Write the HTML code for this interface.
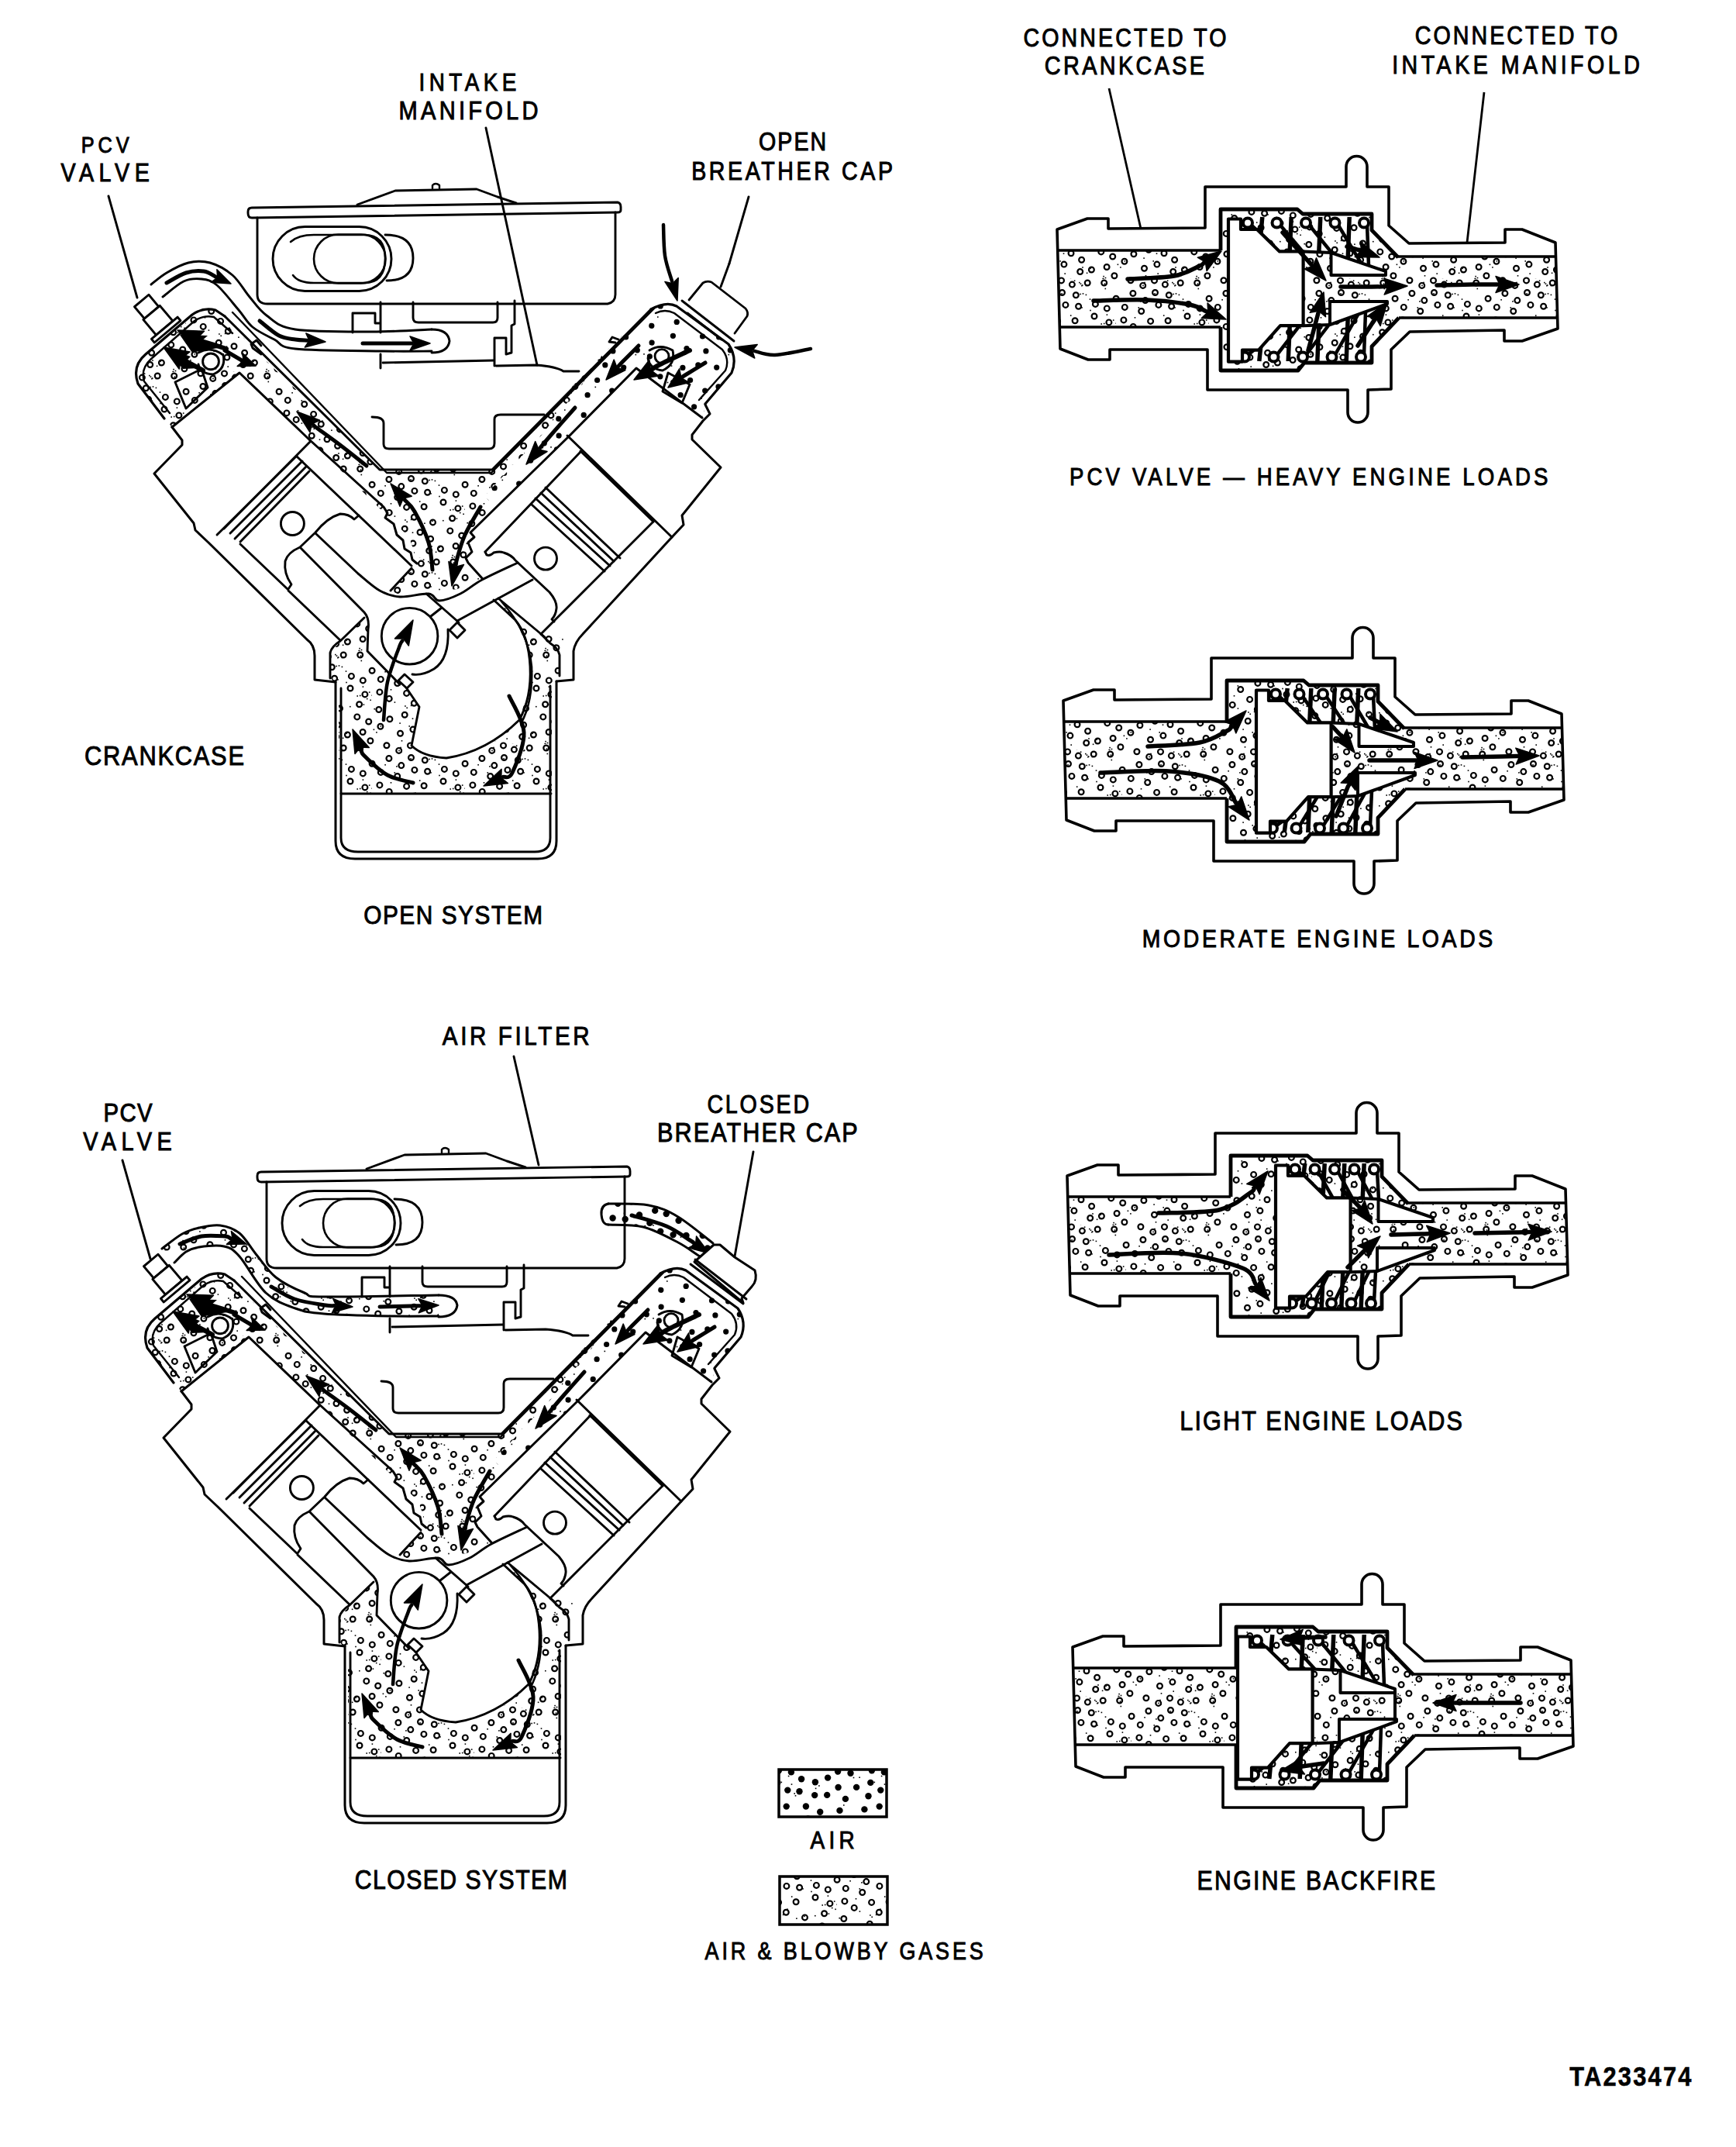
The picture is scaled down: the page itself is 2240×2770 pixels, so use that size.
<!DOCTYPE html><html><head><meta charset="utf-8"><style>html,body{margin:0;padding:0;background:#fff}svg{display:block}</style></head><body>
<svg width="2240" height="2770" viewBox="0 0 2240 2770">
<defs>
<pattern id="st" patternUnits="userSpaceOnUse" width="120" height="120"><circle cx="54.3" cy="67.2" r="3.4" fill="none" stroke="#000" stroke-width="2.2"/><circle cx="110.9" cy="55.9" r="3.4" fill="none" stroke="#000" stroke-width="2.2"/><circle cx="22.2" cy="61.4" r="3.4" fill="none" stroke="#000" stroke-width="2.2"/><circle cx="75.6" cy="95.2" r="3.4" fill="none" stroke="#000" stroke-width="2.2"/><circle cx="11.3" cy="36.4" r="3.4" fill="none" stroke="#000" stroke-width="2.2"/><circle cx="10.9" cy="97.2" r="3.4" fill="none" stroke="#000" stroke-width="2.2"/><circle cx="83.2" cy="5.0" r="3.4" fill="none" stroke="#000" stroke-width="2.2"/><circle cx="83.2" cy="125.0" r="3.4" fill="none" stroke="#000" stroke-width="2.2"/><circle cx="-2.1" cy="-4.2" r="3.4" fill="none" stroke="#000" stroke-width="2.2"/><circle cx="-2.1" cy="115.8" r="3.4" fill="none" stroke="#000" stroke-width="2.2"/><circle cx="117.9" cy="-4.2" r="3.4" fill="none" stroke="#000" stroke-width="2.2"/><circle cx="117.9" cy="115.8" r="3.4" fill="none" stroke="#000" stroke-width="2.2"/><circle cx="78.5" cy="73.9" r="3.4" fill="none" stroke="#000" stroke-width="2.2"/><circle cx="18.9" cy="1.8" r="3.4" fill="none" stroke="#000" stroke-width="2.2"/><circle cx="18.9" cy="121.8" r="3.4" fill="none" stroke="#000" stroke-width="2.2"/><circle cx="63.4" cy="7.1" r="3.4" fill="none" stroke="#000" stroke-width="2.2"/><circle cx="52.9" cy="101.1" r="3.4" fill="none" stroke="#000" stroke-width="2.2"/><circle cx="54.9" cy="33.4" r="3.4" fill="none" stroke="#000" stroke-width="2.2"/><circle cx="100.8" cy="84.9" r="3.4" fill="none" stroke="#000" stroke-width="2.2"/><circle cx="37.8" cy="27.6" r="3.4" fill="none" stroke="#000" stroke-width="2.2"/><circle cx="34.7" cy="8.4" r="3.4" fill="none" stroke="#000" stroke-width="2.2"/><circle cx="92.0" cy="48.0" r="3.4" fill="none" stroke="#000" stroke-width="2.2"/><circle cx="0.1" cy="25.2" r="3.4" fill="none" stroke="#000" stroke-width="2.2"/><circle cx="120.1" cy="25.2" r="3.4" fill="none" stroke="#000" stroke-width="2.2"/><circle cx="8.8" cy="75.5" r="3.4" fill="none" stroke="#000" stroke-width="2.2"/><circle cx="93.4" cy="32.4" r="3.4" fill="none" stroke="#000" stroke-width="2.2"/><circle cx="-4.3" cy="91.0" r="3.4" fill="none" stroke="#000" stroke-width="2.2"/><circle cx="115.7" cy="91.0" r="3.4" fill="none" stroke="#000" stroke-width="2.2"/><circle cx="67.1" cy="53.7" r="3.4" fill="none" stroke="#000" stroke-width="2.2"/><circle cx="22.9" cy="87.8" r="3.4" fill="none" stroke="#000" stroke-width="2.2"/><circle cx="36.5" cy="106.2" r="3.4" fill="none" stroke="#000" stroke-width="2.2"/><circle cx="44.6" cy="54.4" r="3.4" fill="none" stroke="#000" stroke-width="2.2"/><circle cx="21.9" cy="18.5" r="3.4" fill="none" stroke="#000" stroke-width="2.2"/><circle cx="71.6" cy="35.2" r="3.4" fill="none" stroke="#000" stroke-width="2.2"/><circle cx="88.4" cy="108.0" r="3.4" fill="none" stroke="#000" stroke-width="2.2"/><circle cx="42.2" cy="82.2" r="3.4" fill="none" stroke="#000" stroke-width="2.2"/><circle cx="108.1" cy="104.5" r="3.4" fill="none" stroke="#000" stroke-width="2.2"/><circle cx="103.6" cy="68.7" r="3.4" fill="none" stroke="#000" stroke-width="2.2"/><circle cx="73.7" cy="110.5" r="3.4" fill="none" stroke="#000" stroke-width="2.2"/><circle cx="104.7" cy="5.0" r="3.4" fill="none" stroke="#000" stroke-width="2.2"/><circle cx="104.7" cy="125.0" r="3.4" fill="none" stroke="#000" stroke-width="2.2"/><circle cx="32.7" cy="41.5" r="3.4" fill="none" stroke="#000" stroke-width="2.2"/><circle cx="9.9" cy="52.9" r="3.4" fill="none" stroke="#000" stroke-width="2.2"/><circle cx="62.0" cy="86.8" r="3.4" fill="none" stroke="#000" stroke-width="2.2"/><circle cx="108.3" cy="37.9" r="3.4" fill="none" stroke="#000" stroke-width="2.2"/><circle cx="50.5" cy="17.5" r="3.4" fill="none" stroke="#000" stroke-width="2.2"/><circle cx="49.5" cy="1.9" r="3.4" fill="none" stroke="#000" stroke-width="2.2"/><circle cx="49.5" cy="121.9" r="3.4" fill="none" stroke="#000" stroke-width="2.2"/><circle cx="68.3" cy="20.8" r="3.4" fill="none" stroke="#000" stroke-width="2.2"/><rect x="28.6" y="65.3" width="1.6" height="1.6" fill="#000"/><rect x="44.4" y="72.5" width="1.6" height="1.6" fill="#000"/><rect x="75.1" y="7.9" width="1.6" height="1.6" fill="#000"/><rect x="1.6" y="100.5" width="1.6" height="1.6" fill="#000"/><rect x="31.1" y="28.1" width="1.6" height="1.6" fill="#000"/><rect x="119.5" y="56.4" width="1.6" height="1.6" fill="#000"/><rect x="100.4" y="57.2" width="1.6" height="1.6" fill="#000"/><rect x="76.7" y="18.1" width="1.6" height="1.6" fill="#000"/><rect x="76.2" y="104.2" width="1.6" height="1.6" fill="#000"/><rect x="62.8" y="89.0" width="1.6" height="1.6" fill="#000"/><rect x="80.6" y="7.7" width="1.6" height="1.6" fill="#000"/><rect x="91.0" y="70.9" width="1.6" height="1.6" fill="#000"/><rect x="36.2" y="3.7" width="1.6" height="1.6" fill="#000"/><rect x="103.9" y="56.7" width="1.6" height="1.6" fill="#000"/><rect x="86.3" y="105.5" width="1.6" height="1.6" fill="#000"/><rect x="85.7" y="110.5" width="1.6" height="1.6" fill="#000"/><rect x="47.4" y="96.1" width="1.6" height="1.6" fill="#000"/><rect x="53.4" y="112.3" width="1.6" height="1.6" fill="#000"/><rect x="105.5" y="11.7" width="1.6" height="1.6" fill="#000"/><rect x="16.3" y="26.0" width="1.6" height="1.6" fill="#000"/><rect x="115.9" y="52.3" width="1.6" height="1.6" fill="#000"/><rect x="75.2" y="36.1" width="1.6" height="1.6" fill="#000"/><rect x="60.9" y="46.3" width="1.6" height="1.6" fill="#000"/><rect x="42.1" y="70.2" width="1.6" height="1.6" fill="#000"/><rect x="70.1" y="108.5" width="1.6" height="1.6" fill="#000"/><rect x="81.8" y="111.5" width="1.6" height="1.6" fill="#000"/><rect x="102.8" y="118.9" width="1.6" height="1.6" fill="#000"/><rect x="80.6" y="19.6" width="1.6" height="1.6" fill="#000"/><rect x="103.3" y="115.8" width="1.6" height="1.6" fill="#000"/><rect x="108.6" y="68.3" width="1.6" height="1.6" fill="#000"/><rect x="85.7" y="25.3" width="1.6" height="1.6" fill="#000"/><rect x="99.8" y="68.8" width="1.6" height="1.6" fill="#000"/><rect x="34.2" y="7.6" width="1.6" height="1.6" fill="#000"/><rect x="102.5" y="118.8" width="1.6" height="1.6" fill="#000"/><rect x="10.6" y="96.1" width="1.6" height="1.6" fill="#000"/><rect x="49.3" y="18.1" width="1.6" height="1.6" fill="#000"/><rect x="35.3" y="92.3" width="1.6" height="1.6" fill="#000"/><rect x="104.7" y="5.3" width="1.6" height="1.6" fill="#000"/><rect x="73.7" y="5.4" width="1.6" height="1.6" fill="#000"/><rect x="86.2" y="39.7" width="1.6" height="1.6" fill="#000"/><rect x="105.7" y="117.7" width="1.6" height="1.6" fill="#000"/><rect x="60.7" y="119.8" width="1.6" height="1.6" fill="#000"/><rect x="37.2" y="9.2" width="1.6" height="1.6" fill="#000"/><rect x="72.0" y="3.8" width="1.6" height="1.6" fill="#000"/><rect x="23.7" y="49.0" width="1.6" height="1.6" fill="#000"/><rect x="73.3" y="18.7" width="1.6" height="1.6" fill="#000"/><rect x="5.1" y="104.1" width="1.6" height="1.6" fill="#000"/><rect x="37.7" y="115.0" width="1.6" height="1.6" fill="#000"/><rect x="107.6" y="45.3" width="1.6" height="1.6" fill="#000"/><rect x="55.2" y="62.4" width="1.6" height="1.6" fill="#000"/><rect x="77.3" y="71.5" width="1.6" height="1.6" fill="#000"/><rect x="67.1" y="74.4" width="1.6" height="1.6" fill="#000"/><rect x="112.9" y="60.8" width="1.6" height="1.6" fill="#000"/><rect x="51.7" y="86.4" width="1.6" height="1.6" fill="#000"/><rect x="28.5" y="36.1" width="1.6" height="1.6" fill="#000"/><rect x="117.3" y="62.5" width="1.6" height="1.6" fill="#000"/><rect x="65.8" y="1.4" width="1.6" height="1.6" fill="#000"/><rect x="49.8" y="69.6" width="1.6" height="1.6" fill="#000"/><rect x="2.4" y="73.9" width="1.6" height="1.6" fill="#000"/><rect x="75.9" y="7.2" width="1.6" height="1.6" fill="#000"/></pattern>
<pattern id="dt" patternUnits="userSpaceOnUse" width="120" height="120"><circle cx="74.7" cy="89.0" r="4.2" fill="#000"/><circle cx="95.4" cy="113.1" r="4.2" fill="#000"/><circle cx="3.5" cy="55.9" r="4.2" fill="#000"/><circle cx="123.5" cy="55.9" r="4.2" fill="#000"/><circle cx="113.2" cy="77.9" r="4.2" fill="#000"/><circle cx="108.1" cy="13.6" r="4.2" fill="#000"/><circle cx="56.3" cy="29.6" r="4.2" fill="#000"/><circle cx="65.3" cy="68.9" r="4.2" fill="#000"/><circle cx="1.6" cy="26.0" r="4.2" fill="#000"/><circle cx="121.6" cy="26.0" r="4.2" fill="#000"/><circle cx="33.5" cy="110.0" r="4.2" fill="#000"/><circle cx="91.9" cy="19.2" r="4.2" fill="#000"/><circle cx="74.1" cy="15.2" r="4.2" fill="#000"/><circle cx="0.2" cy="104.6" r="4.2" fill="#000"/><circle cx="120.2" cy="104.6" r="4.2" fill="#000"/><circle cx="25.1" cy="25.9" r="4.2" fill="#000"/><circle cx="107.2" cy="35.9" r="4.2" fill="#000"/><circle cx="43.3" cy="19.9" r="4.2" fill="#000"/><circle cx="17.5" cy="7.8" r="4.2" fill="#000"/><circle cx="36.2" cy="72.4" r="4.2" fill="#000"/><circle cx="40.5" cy="37.2" r="4.2" fill="#000"/><circle cx="98.2" cy="57.7" r="4.2" fill="#000"/><circle cx="1.1" cy="5.6" r="4.2" fill="#000"/><circle cx="1.1" cy="125.6" r="4.2" fill="#000"/><circle cx="121.1" cy="5.6" r="4.2" fill="#000"/><circle cx="121.1" cy="125.6" r="4.2" fill="#000"/><circle cx="23.6" cy="90.7" r="4.2" fill="#000"/><circle cx="10.9" cy="40.9" r="4.2" fill="#000"/><circle cx="73.3" cy="110.2" r="4.2" fill="#000"/><circle cx="54.7" cy="50.6" r="4.2" fill="#000"/><circle cx="35.4" cy="54.4" r="4.2" fill="#000"/><circle cx="58.6" cy="87.5" r="4.2" fill="#000"/><circle cx="43.4" cy="94.3" r="4.2" fill="#000"/><circle cx="93.0" cy="83.4" r="4.2" fill="#000"/><circle cx="88.5" cy="99.4" r="4.2" fill="#000"/><circle cx="79.9" cy="50.5" r="4.2" fill="#000"/><circle cx="44.9" cy="4.3" r="4.2" fill="#000"/><circle cx="44.9" cy="124.3" r="4.2" fill="#000"/><circle cx="13.0" cy="67.9" r="4.2" fill="#000"/><circle cx="71.5" cy="31.2" r="4.2" fill="#000"/><circle cx="91.2" cy="36.1" r="4.2" fill="#000"/><circle cx="54.7" cy="110.0" r="4.2" fill="#000"/><circle cx="82.7" cy="66.4" r="4.2" fill="#000"/><circle cx="60.9" cy="6.4" r="4.2" fill="#000"/><circle cx="7.7" cy="82.1" r="4.2" fill="#000"/><circle cx="106.4" cy="93.9" r="4.2" fill="#000"/><circle cx="16.6" cy="109.1" r="4.2" fill="#000"/><rect x="28.3" y="12.4" width="1.6" height="1.6" fill="#000"/><rect x="47.5" y="18.6" width="1.6" height="1.6" fill="#000"/><rect x="8.0" y="48.2" width="1.6" height="1.6" fill="#000"/><rect x="110.2" y="96.1" width="1.6" height="1.6" fill="#000"/><rect x="91.8" y="26.6" width="1.6" height="1.6" fill="#000"/><rect x="64.4" y="33.2" width="1.6" height="1.6" fill="#000"/><rect x="20.7" y="12.7" width="1.6" height="1.6" fill="#000"/><rect x="25.7" y="111.3" width="1.6" height="1.6" fill="#000"/><rect x="99.5" y="96.8" width="1.6" height="1.6" fill="#000"/><rect x="96.1" y="23.2" width="1.6" height="1.6" fill="#000"/><rect x="37.2" y="75.2" width="1.6" height="1.6" fill="#000"/><rect x="87.8" y="102.6" width="1.6" height="1.6" fill="#000"/><rect x="105.6" y="10.4" width="1.6" height="1.6" fill="#000"/><rect x="72.7" y="80.6" width="1.6" height="1.6" fill="#000"/><rect x="60.7" y="21.3" width="1.6" height="1.6" fill="#000"/><rect x="56.8" y="10.7" width="1.6" height="1.6" fill="#000"/><rect x="112.2" y="103.9" width="1.6" height="1.6" fill="#000"/><rect x="65.7" y="36.0" width="1.6" height="1.6" fill="#000"/><rect x="109.1" y="68.7" width="1.6" height="1.6" fill="#000"/><rect x="105.9" y="101.8" width="1.6" height="1.6" fill="#000"/></pattern>
<pattern id="dt2" patternUnits="userSpaceOnUse" width="120" height="120"><circle cx="55.6" cy="44.8" r="3.6" fill="#000"/><circle cx="16.6" cy="104.0" r="3.6" fill="#000"/><circle cx="0.8" cy="60.3" r="3.6" fill="#000"/><circle cx="120.8" cy="60.3" r="3.6" fill="#000"/><circle cx="107.8" cy="9.7" r="3.6" fill="#000"/><circle cx="66.5" cy="74.0" r="3.6" fill="#000"/><circle cx="84.4" cy="54.2" r="3.6" fill="#000"/><circle cx="87.0" cy="18.9" r="3.6" fill="#000"/><circle cx="28.6" cy="13.3" r="3.6" fill="#000"/><circle cx="60.8" cy="110.9" r="3.6" fill="#000"/><circle cx="70.9" cy="92.9" r="3.6" fill="#000"/><circle cx="46.0" cy="89.5" r="3.6" fill="#000"/><circle cx="12.2" cy="34.9" r="3.6" fill="#000"/><circle cx="50.6" cy="10.5" r="3.6" fill="#000"/><circle cx="84.7" cy="-5.9" r="3.6" fill="#000"/><circle cx="84.7" cy="114.1" r="3.6" fill="#000"/><circle cx="28.4" cy="73.3" r="3.6" fill="#000"/><circle cx="95.9" cy="39.4" r="3.6" fill="#000"/><circle cx="11.9" cy="5.8" r="3.6" fill="#000"/><circle cx="11.9" cy="125.8" r="3.6" fill="#000"/><circle cx="87.6" cy="75.0" r="3.6" fill="#000"/><circle cx="-1.6" cy="99.9" r="3.6" fill="#000"/><circle cx="118.4" cy="99.9" r="3.6" fill="#000"/><circle cx="38.1" cy="29.7" r="3.6" fill="#000"/><circle cx="33.2" cy="55.4" r="3.6" fill="#000"/><circle cx="1.1" cy="82.1" r="3.6" fill="#000"/><circle cx="121.1" cy="82.1" r="3.6" fill="#000"/><circle cx="69.7" cy="24.0" r="3.6" fill="#000"/><circle cx="114.0" cy="41.6" r="3.6" fill="#000"/><circle cx="102.3" cy="91.8" r="3.6" fill="#000"/><circle cx="40.9" cy="-5.6" r="3.6" fill="#000"/><circle cx="40.9" cy="114.4" r="3.6" fill="#000"/><rect x="28.3" y="12.4" width="1.6" height="1.6" fill="#000"/><rect x="47.5" y="18.6" width="1.6" height="1.6" fill="#000"/><rect x="8.0" y="48.2" width="1.6" height="1.6" fill="#000"/><rect x="110.2" y="96.1" width="1.6" height="1.6" fill="#000"/><rect x="91.8" y="26.6" width="1.6" height="1.6" fill="#000"/><rect x="64.4" y="33.2" width="1.6" height="1.6" fill="#000"/><rect x="20.7" y="12.7" width="1.6" height="1.6" fill="#000"/><rect x="25.7" y="111.3" width="1.6" height="1.6" fill="#000"/><rect x="99.5" y="96.8" width="1.6" height="1.6" fill="#000"/><rect x="96.1" y="23.2" width="1.6" height="1.6" fill="#000"/></pattern>
</defs>
<rect width="2240" height="2770" fill="#fff"/>
<g fill="#000">
<text transform="translate(104.80,197.20) scale(0.88,1)" font-size="28.77" textLength="70.23" lengthAdjust="spacing" font-family="Liberation Sans" font-weight="normal" stroke="#000" stroke-width="1.0">PCV</text>
<text transform="translate(78.40,234.00) scale(0.88,1)" font-size="32.55" textLength="130.00" lengthAdjust="spacing" font-family="Liberation Sans" font-weight="normal" stroke="#000" stroke-width="1.0">VALVE</text>
<text transform="translate(540.60,117.00) scale(0.88,1)" font-size="31.67" textLength="142.95" lengthAdjust="spacing" font-family="Liberation Sans" font-weight="normal" stroke="#000" stroke-width="1.0">INTAKE</text>
<text transform="translate(514.60,154.20) scale(0.88,1)" font-size="33.06" textLength="204.32" lengthAdjust="spacing" font-family="Liberation Sans" font-weight="normal" stroke="#000" stroke-width="1.0">MANIFOLD</text>
<text transform="translate(979.00,194.20) scale(0.88,1)" font-size="32.47" textLength="99.09" lengthAdjust="spacing" font-family="Liberation Sans" font-weight="normal" stroke="#000" stroke-width="1.0">OPEN</text>
<text transform="translate(892.20,231.60) scale(0.88,1)" font-size="32.47" textLength="295.23" lengthAdjust="spacing" font-family="Liberation Sans" font-weight="normal" stroke="#000" stroke-width="1.0">BREATHER CAP</text>
<text transform="translate(109.00,987.00) scale(0.88,1)" font-size="35.07" textLength="234.09" lengthAdjust="spacing" font-family="Liberation Sans" font-weight="normal" stroke="#000" stroke-width="1.0">CRANKCASE</text>
<text transform="translate(469.20,1192.00) scale(0.88,1)" font-size="33.86" textLength="262.27" lengthAdjust="spacing" font-family="Liberation Sans" font-weight="normal" stroke="#000" stroke-width="1.0">OPEN SYSTEM</text>
<text transform="translate(1320.40,60.00) scale(0.88,1)" font-size="32.47" textLength="297.95" lengthAdjust="spacing" font-family="Liberation Sans" font-weight="normal" stroke="#000" stroke-width="1.0">CONNECTED TO</text>
<text transform="translate(1347.80,96.40) scale(0.88,1)" font-size="32.75" textLength="234.32" lengthAdjust="spacing" font-family="Liberation Sans" font-weight="normal" stroke="#000" stroke-width="1.0">CRANKCASE</text>
<text transform="translate(1825.80,57.00) scale(0.88,1)" font-size="32.55" textLength="297.05" lengthAdjust="spacing" font-family="Liberation Sans" font-weight="normal" stroke="#000" stroke-width="1.0">CONNECTED TO</text>
<text transform="translate(1796.20,95.00) scale(0.88,1)" font-size="32.47" textLength="363.18" lengthAdjust="spacing" font-family="Liberation Sans" font-weight="normal" stroke="#000" stroke-width="1.0">INTAKE MANIFOLD</text>
<text transform="translate(1380.00,626.00) scale(0.88,1)" font-size="31.38" textLength="701.59" lengthAdjust="spacing" font-family="Liberation Sans" font-weight="normal" stroke="#000" stroke-width="1.0">PCV VALVE — HEAVY ENGINE LOADS</text>
<text transform="translate(1473.80,1222.20) scale(0.88,1)" font-size="32.27" textLength="514.09" lengthAdjust="spacing" font-family="Liberation Sans" font-weight="normal" stroke="#000" stroke-width="1.0">MODERATE ENGINE LOADS</text>
<text transform="translate(1522.20,1844.60) scale(0.88,1)" font-size="34.82" textLength="414.55" lengthAdjust="spacing" font-family="Liberation Sans" font-weight="normal" stroke="#000" stroke-width="1.0">LIGHT ENGINE LOADS</text>
<text transform="translate(1544.60,2438.00) scale(0.88,1)" font-size="34.31" textLength="349.55" lengthAdjust="spacing" font-family="Liberation Sans" font-weight="normal" stroke="#000" stroke-width="1.0">ENGINE BACKFIRE</text>
<text transform="translate(570.80,1348.00) scale(0.88,1)" font-size="33.57" textLength="215.68" lengthAdjust="spacing" font-family="Liberation Sans" font-weight="normal" stroke="#000" stroke-width="1.0">AIR FILTER</text>
<text transform="translate(133.40,1447.40) scale(0.88,1)" font-size="33.33" textLength="71.82" lengthAdjust="spacing" font-family="Liberation Sans" font-weight="normal" stroke="#000" stroke-width="1.0">PCV</text>
<text transform="translate(107.20,1483.80) scale(0.88,1)" font-size="32.78" textLength="130.23" lengthAdjust="spacing" font-family="Liberation Sans" font-weight="normal" stroke="#000" stroke-width="1.0">VALVE</text>
<text transform="translate(912.40,1435.80) scale(0.88,1)" font-size="32.53" textLength="149.77" lengthAdjust="spacing" font-family="Liberation Sans" font-weight="normal" stroke="#000" stroke-width="1.0">CLOSED</text>
<text transform="translate(848.00,1473.20) scale(0.88,1)" font-size="34.82" textLength="294.09" lengthAdjust="spacing" font-family="Liberation Sans" font-weight="normal" stroke="#000" stroke-width="1.0">BREATHER CAP</text>
<text transform="translate(457.80,2437.20) scale(0.88,1)" font-size="34.31" textLength="311.36" lengthAdjust="spacing" font-family="Liberation Sans" font-weight="normal" stroke="#000" stroke-width="1.0">CLOSED SYSTEM</text>
<text transform="translate(1045.60,2385.20) scale(0.88,1)" font-size="31.72" textLength="64.77" lengthAdjust="spacing" font-family="Liberation Sans" font-weight="normal" stroke="#000" stroke-width="1.0">AIR</text>
<text transform="translate(909.60,2528.20) scale(0.88,1)" font-size="30.60" textLength="408.18" lengthAdjust="spacing" font-family="Liberation Sans" font-weight="normal" stroke="#000" stroke-width="1.0">AIR &amp; BLOWBY GASES</text>
<text transform="translate(2025.20,2691.00) scale(0.88,1)" font-size="34.98" textLength="178.64" lengthAdjust="spacing" font-family="Liberation Sans" font-weight="bold" stroke="#000" stroke-width="0.6">TA233474</text>
</g>
<path d="M1431,114 L1472,295 M1915,119 L1893,313" stroke="#000" stroke-width="2.8" fill="none"/>
<g transform="translate(0,0)" stroke="#000" fill="none" stroke-linejoin="round">
<path d="M1366,323 H1575 V422 H1368 Z" fill="url(#st)" stroke="none"/>
<path d="M1575,270 H1674 L1681,276 H1770 V297 L1804,332 H2008 V410 H1805 L1770,447 V468 H1683 L1675,478 H1575 Z" fill="url(#st)" stroke="none"/>
<path d="M1364,296 L1403,282 L1430,282 L1430,295 L1555,294 L1555,241 L1737,241 L1737,215 A13.5,13.5 0 0 1 1764,215 L1764,241 L1792,241 L1792,291 L1818,314 L1942,313 L1942,296 L1964,296 L2007,313 L2010,424 L1964,440 L1941,440 L1941,426 L1819,428 L1795,451 L1795,502 L1765,503 L1765,532 A13,13 0 0 1 1739,532 L1739,503 L1558,503 L1558,451 L1432,451 L1432,464 L1404,464 L1368,450 Z" stroke-width="3.6"/>
<path d="M1366,323 H1575 M1368,422 H1575 M1803,331 H2008 M1805,410 H2009" stroke-width="3.6"/>
<path d="M1628.8,280 L1626.8,302.5" stroke="#000" stroke-width="5.5" fill="none"/>
<path d="M1624.8,466 L1626.8,446.4" stroke="#000" stroke-width="5.5" fill="none"/>
<path d="M1614.0,290 L1643.8,317.0" stroke="#000" stroke-width="4.5" fill="none"/>
<path d="M1610.0,458 L1639.8,434.0" stroke="#000" stroke-width="4.5" fill="none"/>
<path d="M1666.2,280 L1664.2,324.5" stroke="#000" stroke-width="5.5" fill="none"/>
<path d="M1662.2,466 L1664.2,419.8" stroke="#000" stroke-width="5.5" fill="none"/>
<path d="M1651.5,290 L1681.2,324.9" stroke="#000" stroke-width="4.5" fill="none"/>
<path d="M1647.5,458 L1677.2,419.6" stroke="#000" stroke-width="4.5" fill="none"/>
<path d="M1703.8,280 L1701.8,325.6" stroke="#000" stroke-width="5.5" fill="none"/>
<path d="M1699.8,466 L1701.8,419.2" stroke="#000" stroke-width="5.5" fill="none"/>
<path d="M1689.0,290 L1718.8,326.6" stroke="#000" stroke-width="4.5" fill="none"/>
<path d="M1685.0,458 L1714.8,419.0" stroke="#000" stroke-width="4.5" fill="none"/>
<path d="M1741.2,280 L1739.2,334.2" stroke="#000" stroke-width="5.5" fill="none"/>
<path d="M1737.2,466 L1739.2,409.8" stroke="#000" stroke-width="5.5" fill="none"/>
<path d="M1726.5,290 L1756.2,339.3" stroke="#000" stroke-width="4.5" fill="none"/>
<path d="M1722.5,458 L1752.2,405.8" stroke="#000" stroke-width="4.5" fill="none"/>
<path d="M1764.0,290 L1766.0,342.6" stroke="#000" stroke-width="4.5" fill="none"/>
<path d="M1760.0,458 L1762.0,402.2" stroke="#000" stroke-width="4.5" fill="none"/>
<circle cx="1610.0" cy="287.5" r="6" fill="#fff" stroke="#000" stroke-width="4"/>
<circle cx="1606.0" cy="460.5" r="6" fill="#fff" stroke="#000" stroke-width="4"/>
<circle cx="1647.5" cy="287.5" r="6" fill="#fff" stroke="#000" stroke-width="4"/>
<circle cx="1643.5" cy="460.5" r="6" fill="#fff" stroke="#000" stroke-width="4"/>
<circle cx="1685.0" cy="287.5" r="6" fill="#fff" stroke="#000" stroke-width="4"/>
<circle cx="1681.0" cy="460.5" r="6" fill="#fff" stroke="#000" stroke-width="4"/>
<circle cx="1722.5" cy="287.5" r="6" fill="#fff" stroke="#000" stroke-width="4"/>
<circle cx="1718.5" cy="460.5" r="6" fill="#fff" stroke="#000" stroke-width="4"/>
<circle cx="1760.0" cy="287.5" r="6" fill="#fff" stroke="#000" stroke-width="4"/>
<circle cx="1756.0" cy="460.5" r="6" fill="#fff" stroke="#000" stroke-width="4"/>
<path d="M1585,282.5 H1601 V296 H1622 L1651,324.4 H1681.6 V420.2 H1652 L1624,451.7 H1603 V466.7 H1585 Z" fill="#fff" stroke="#000" stroke-width="4.2" stroke-linejoin="round"/>
<path d="M1681.6,324.4 L1717.5,326 M1681.6,420.2 L1716,419" stroke="#000" stroke-width="4" fill="none"/>
<path d="M1717.5,326 L1788,350 V355 H1717.5 Z" fill="#fff" stroke="#000" stroke-width="4" stroke-linejoin="round"/>
<path d="M1716,389 H1790 V392 L1716,419 Z" fill="#fff" stroke="#000" stroke-width="4" stroke-linejoin="round"/>
<path d="M1575,323 V270 H1674 L1681,276 H1770 V297 L1804,332 M1575,422 V478 H1675 L1683,468 H1770 V447 L1805,410" stroke-width="4.8"/>
<path d="M1455.0,360.0 C1465.0,359.3 1499.5,358.8 1515.0,356.0 C1530.5,353.2 1541.7,345.7 1548.0,343.0 C1554.3,340.3 1552.0,340.3 1552.8,339.7" fill="none" stroke="#000" stroke-width="5.5" stroke-linecap="round" />
<path d="M1576.0,324.0 L1557.1,349.5 L1555.3,338.0 L1545.3,332.2 Z" fill="#000" stroke="#000" stroke-width="1.5" stroke-linejoin="round"/>
<path d="M1411.0,388.0 C1422.5,387.8 1459.3,386.2 1480.0,387.0 C1500.7,387.8 1522.3,390.6 1535.0,393.0 C1547.7,395.4 1552.5,400.1 1556.0,401.5" fill="none" stroke="#000" stroke-width="5.5" stroke-linecap="round" />
<path d="M1582.0,412.0 L1550.3,410.5 L1558.8,402.6 L1558.1,391.0 Z" fill="#000" stroke="#000" stroke-width="1.5" stroke-linejoin="round"/>
<path d="M1854.0,368.0 C1861.7,367.8 1887.0,367.2 1900.0,367.0 C1913.0,366.8 1926.7,367.0 1932.0,367.0" fill="none" stroke="#000" stroke-width="5.5" stroke-linecap="round" />
<path d="M1960.0,367.0 L1930.0,377.5 L1935.0,367.0 L1930.0,356.5 Z" fill="#000" stroke="#000" stroke-width="1.5" stroke-linejoin="round"/>
<path d="M1730.0,370.0 C1736.7,370.0 1760.3,370.1 1770.0,370.0 C1779.7,369.9 1785.0,369.7 1788.0,369.6" fill="none" stroke="#000" stroke-width="5.5" stroke-linecap="round" />
<path d="M1816.0,369.0 L1786.2,380.1 L1791.0,369.5 L1785.8,359.2 Z" fill="#000" stroke="#000" stroke-width="1.5" stroke-linejoin="round"/>
<path d="M1655.0,300.0 C1659.2,304.7 1673.8,321.1 1680.0,328.0 C1686.2,334.9 1690.1,339.1 1692.1,341.3" fill="none" stroke="#000" stroke-width="5.5" stroke-linecap="round" />
<path d="M1711.0,362.0 L1683.0,346.9 L1694.2,343.5 L1698.5,332.8 Z" fill="#000" stroke="#000" stroke-width="1.5" stroke-linejoin="round"/>
<path d="M1688.0,452.0 C1689.7,445.8 1695.9,423.0 1698.0,415.0 C1700.1,407.0 1700.4,405.9 1700.9,404.1" fill="none" stroke="#000" stroke-width="5.5" stroke-linecap="round" />
<path d="M1708.0,377.0 L1710.5,408.7 L1701.6,401.2 L1690.2,403.3 Z" fill="#000" stroke="#000" stroke-width="1.5" stroke-linejoin="round"/>
<path d="M1738.0,318.0 C1741.3,319.0 1755.4,323.3 1758.0,324.0 C1760.6,324.7 1754.4,322.7 1753.7,322.4" fill="none" stroke="#000" stroke-width="5.5" stroke-linecap="round" />
<path d="M1780.0,332.0 L1748.2,331.6 L1756.5,323.5 L1755.4,311.9 Z" fill="#000" stroke="#000" stroke-width="1.5" stroke-linejoin="round"/>
<path d="M1752.0,446.0 C1755.0,441.3 1766.4,423.5 1770.0,418.0 C1773.6,412.5 1773.1,413.7 1773.7,412.8" fill="none" stroke="#000" stroke-width="5.5" stroke-linecap="round" />
<path d="M1790.0,390.0 L1781.1,420.5 L1775.5,410.3 L1764.0,408.3 Z" fill="#000" stroke="#000" stroke-width="1.5" stroke-linejoin="round"/>
</g>
<g transform="translate(8,608)" stroke="#000" fill="none" stroke-linejoin="round">
<path d="M1366,323 H1575 V422 H1368 Z" fill="url(#st)" stroke="none"/>
<path d="M1575,270 H1674 L1681,276 H1770 V297 L1804,332 H2008 V410 H1805 L1770,447 V468 H1683 L1675,478 H1575 Z" fill="url(#st)" stroke="none"/>
<path d="M1364,296 L1403,282 L1430,282 L1430,295 L1555,294 L1555,241 L1737,241 L1737,215 A13.5,13.5 0 0 1 1764,215 L1764,241 L1792,241 L1792,291 L1818,314 L1942,313 L1942,296 L1964,296 L2007,313 L2010,424 L1964,440 L1941,440 L1941,426 L1819,428 L1795,451 L1795,502 L1765,503 L1765,532 A13,13 0 0 1 1739,532 L1739,503 L1558,503 L1558,451 L1432,451 L1432,464 L1404,464 L1368,450 Z" stroke-width="3.6"/>
<path d="M1366,323 H1575 M1368,422 H1575 M1803,331 H2008 M1805,410 H2009" stroke-width="3.6"/>
<path d="M1653.2,280 L1651.2,299.1" stroke="#000" stroke-width="5.5" fill="none"/>
<path d="M1649.2,466 L1651.2,450.3" stroke="#000" stroke-width="5.5" fill="none"/>
<path d="M1642.0,290 L1665.5,310.9" stroke="#000" stroke-width="4.5" fill="none"/>
<path d="M1638.0,458 L1661.5,441.1" stroke="#000" stroke-width="4.5" fill="none"/>
<path d="M1683.8,280 L1681.8,324.1" stroke="#000" stroke-width="5.5" fill="none"/>
<path d="M1679.8,466 L1681.8,419.9" stroke="#000" stroke-width="5.5" fill="none"/>
<path d="M1672.5,290 L1696.0,324.5" stroke="#000" stroke-width="4.5" fill="none"/>
<path d="M1668.5,458 L1692.0,419.8" stroke="#000" stroke-width="4.5" fill="none"/>
<path d="M1714.2,280 L1712.2,325.1" stroke="#000" stroke-width="5.5" fill="none"/>
<path d="M1710.2,466 L1712.2,419.5" stroke="#000" stroke-width="5.5" fill="none"/>
<path d="M1703.0,290 L1726.5,325.4" stroke="#000" stroke-width="4.5" fill="none"/>
<path d="M1699.0,458 L1722.5,419.3" stroke="#000" stroke-width="4.5" fill="none"/>
<path d="M1744.8,280 L1742.8,326.0" stroke="#000" stroke-width="5.5" fill="none"/>
<path d="M1740.8,466 L1742.8,418.7" stroke="#000" stroke-width="5.5" fill="none"/>
<path d="M1733.5,290 L1757.0,330.0" stroke="#000" stroke-width="4.5" fill="none"/>
<path d="M1729.5,458 L1753.0,415.7" stroke="#000" stroke-width="4.5" fill="none"/>
<path d="M1764.0,290 L1766.0,333.1" stroke="#000" stroke-width="4.5" fill="none"/>
<path d="M1760.0,458 L1762.0,412.4" stroke="#000" stroke-width="4.5" fill="none"/>
<circle cx="1638.0" cy="287.5" r="6" fill="#fff" stroke="#000" stroke-width="4"/>
<circle cx="1634.0" cy="460.5" r="6" fill="#fff" stroke="#000" stroke-width="4"/>
<circle cx="1668.5" cy="287.5" r="6" fill="#fff" stroke="#000" stroke-width="4"/>
<circle cx="1664.5" cy="460.5" r="6" fill="#fff" stroke="#000" stroke-width="4"/>
<circle cx="1699.0" cy="287.5" r="6" fill="#fff" stroke="#000" stroke-width="4"/>
<circle cx="1695.0" cy="460.5" r="6" fill="#fff" stroke="#000" stroke-width="4"/>
<circle cx="1729.5" cy="287.5" r="6" fill="#fff" stroke="#000" stroke-width="4"/>
<circle cx="1725.5" cy="460.5" r="6" fill="#fff" stroke="#000" stroke-width="4"/>
<circle cx="1760.0" cy="287.5" r="6" fill="#fff" stroke="#000" stroke-width="4"/>
<circle cx="1756.0" cy="460.5" r="6" fill="#fff" stroke="#000" stroke-width="4"/>
<path d="M1613,282.5 H1629 V296 H1650 L1679,324.4 H1709.6 V420.2 H1680 L1652,451.7 H1631 V466.7 H1613 Z" fill="#fff" stroke="#000" stroke-width="4.2" stroke-linejoin="round"/>
<path d="M1709.6,324.4 L1745.5,326 M1709.6,420.2 L1744,419" stroke="#000" stroke-width="4" fill="none"/>
<path d="M1745.5,326 L1816,350 V355 H1745.5 Z" fill="#fff" stroke="#000" stroke-width="4" stroke-linejoin="round"/>
<path d="M1744,389 H1818 V392 L1744,419 Z" fill="#fff" stroke="#000" stroke-width="4" stroke-linejoin="round"/>
<path d="M1575,323 V270 H1674 L1681,276 H1770 V297 L1804,332 M1575,422 V478 H1675 L1683,468 H1770 V447 L1805,410" stroke-width="4.8"/>
<path d="M1473.0,355.0 C1484.2,354.2 1523.0,353.3 1540.0,350.0 C1557.0,346.7 1568.2,338.5 1575.0,335.0 C1581.8,331.5 1579.7,330.2 1580.6,329.2" fill="none" stroke="#000" stroke-width="5.5" stroke-linecap="round" />
<path d="M1600.0,309.0 L1586.8,337.9 L1582.7,327.0 L1571.6,323.3 Z" fill="#000" stroke="#000" stroke-width="1.5" stroke-linejoin="round"/>
<path d="M1412.0,389.0 C1426.7,388.7 1474.5,385.2 1500.0,387.0 C1525.5,388.8 1550.5,393.2 1565.0,400.0 C1579.5,406.8 1583.1,423.3 1586.8,427.9" fill="none" stroke="#000" stroke-width="5.5" stroke-linecap="round" />
<path d="M1604.0,450.0 L1577.3,432.8 L1588.6,430.3 L1593.8,419.9 Z" fill="#000" stroke="#000" stroke-width="1.5" stroke-linejoin="round"/>
<path d="M1879.0,369.0 C1887.5,368.8 1918.2,368.2 1930.0,368.0 C1941.8,367.8 1946.7,367.7 1950.0,367.6" fill="none" stroke="#000" stroke-width="5.5" stroke-linecap="round" />
<path d="M1978.0,367.0 L1948.2,378.1 L1953.0,367.5 L1947.8,357.1 Z" fill="#000" stroke="#000" stroke-width="1.5" stroke-linejoin="round"/>
<path d="M1759.0,373.0 C1765.8,373.0 1790.0,373.0 1800.0,373.0 C1810.0,373.0 1815.8,373.0 1819.0,373.0" fill="none" stroke="#000" stroke-width="5.5" stroke-linecap="round" />
<path d="M1847.0,373.0 L1817.0,383.5 L1822.0,373.0 L1817.0,362.5 Z" fill="#000" stroke="#000" stroke-width="1.5" stroke-linejoin="round"/>
<path d="M1712.0,330.0 C1714.3,332.5 1724.2,343.2 1726.0,345.0 C1727.8,346.8 1723.3,341.6 1722.8,340.9" fill="none" stroke="#000" stroke-width="5.5" stroke-linecap="round" />
<path d="M1740.0,363.0 L1713.3,345.8 L1724.7,343.3 L1729.9,332.9 Z" fill="#000" stroke="#000" stroke-width="1.5" stroke-linejoin="round"/>
<path d="M1716.0,445.0 C1718.3,439.2 1727.3,416.7 1730.0,410.0 C1732.7,403.3 1732.1,405.9 1732.5,405.0" fill="none" stroke="#000" stroke-width="5.5" stroke-linecap="round" />
<path d="M1745.0,380.0 L1741.0,411.5 L1733.8,402.4 L1722.2,402.1 Z" fill="#000" stroke="#000" stroke-width="1.5" stroke-linejoin="round"/>
<path d="M1760.0,318.0 C1762.5,319.3 1773.3,325.1 1775.0,326.0 C1776.7,326.9 1770.8,323.9 1770.0,323.5" fill="none" stroke="#000" stroke-width="5.5" stroke-linecap="round" />
<path d="M1795.0,336.0 L1763.5,332.0 L1772.6,324.8 L1772.9,313.2 Z" fill="#000" stroke="#000" stroke-width="1.5" stroke-linejoin="round"/>
</g>
<g transform="translate(13,1221)" stroke="#000" fill="none" stroke-linejoin="round">
<path d="M1366,323 H1575 V422 H1368 Z" fill="url(#st)" stroke="none"/>
<path d="M1575,270 H1674 L1681,276 H1770 V297 L1804,332 H2008 V410 H1805 L1770,447 V468 H1683 L1675,478 H1575 Z" fill="url(#st)" stroke="none"/>
<path d="M1364,296 L1403,282 L1430,282 L1430,295 L1555,294 L1555,241 L1737,241 L1737,215 A13.5,13.5 0 0 1 1764,215 L1764,241 L1792,241 L1792,291 L1818,314 L1942,313 L1942,296 L1964,296 L2007,313 L2010,424 L1964,440 L1941,440 L1941,426 L1819,428 L1795,451 L1795,502 L1765,503 L1765,532 A13,13 0 0 1 1739,532 L1739,503 L1558,503 L1558,451 L1432,451 L1432,464 L1404,464 L1368,450 Z" stroke-width="3.6"/>
<path d="M1366,323 H1575 M1368,422 H1575 M1803,331 H2008 M1805,410 H2009" stroke-width="3.6"/>
<path d="M1670.8,280 L1668.8,296.7" stroke="#000" stroke-width="5.5" fill="none"/>
<path d="M1666.8,466 L1668.8,453.1" stroke="#000" stroke-width="5.5" fill="none"/>
<path d="M1662.0,290 L1681.0,306.6" stroke="#000" stroke-width="4.5" fill="none"/>
<path d="M1658.0,458 L1677.0,446.1" stroke="#000" stroke-width="4.5" fill="none"/>
<path d="M1696.2,280 L1694.2,321.3" stroke="#000" stroke-width="5.5" fill="none"/>
<path d="M1692.2,466 L1694.2,424.4" stroke="#000" stroke-width="5.5" fill="none"/>
<path d="M1687.5,290 L1706.5,324.2" stroke="#000" stroke-width="4.5" fill="none"/>
<path d="M1683.5,458 L1702.5,420.0" stroke="#000" stroke-width="4.5" fill="none"/>
<path d="M1721.8,280 L1719.8,324.7" stroke="#000" stroke-width="5.5" fill="none"/>
<path d="M1717.8,466 L1719.8,419.7" stroke="#000" stroke-width="5.5" fill="none"/>
<path d="M1713.0,290 L1732.0,325.0" stroke="#000" stroke-width="4.5" fill="none"/>
<path d="M1709.0,458 L1728.0,419.6" stroke="#000" stroke-width="4.5" fill="none"/>
<path d="M1747.2,280 L1745.2,325.5" stroke="#000" stroke-width="5.5" fill="none"/>
<path d="M1743.2,466 L1745.2,419.3" stroke="#000" stroke-width="5.5" fill="none"/>
<path d="M1738.5,290 L1757.5,325.8" stroke="#000" stroke-width="4.5" fill="none"/>
<path d="M1734.5,458 L1753.5,419.2" stroke="#000" stroke-width="4.5" fill="none"/>
<path d="M1764.0,290 L1766.0,326.3" stroke="#000" stroke-width="4.5" fill="none"/>
<path d="M1760.0,458 L1762.0,419.0" stroke="#000" stroke-width="4.5" fill="none"/>
<circle cx="1658.0" cy="287.5" r="6" fill="#fff" stroke="#000" stroke-width="4"/>
<circle cx="1654.0" cy="460.5" r="6" fill="#fff" stroke="#000" stroke-width="4"/>
<circle cx="1683.5" cy="287.5" r="6" fill="#fff" stroke="#000" stroke-width="4"/>
<circle cx="1679.5" cy="460.5" r="6" fill="#fff" stroke="#000" stroke-width="4"/>
<circle cx="1709.0" cy="287.5" r="6" fill="#fff" stroke="#000" stroke-width="4"/>
<circle cx="1705.0" cy="460.5" r="6" fill="#fff" stroke="#000" stroke-width="4"/>
<circle cx="1734.5" cy="287.5" r="6" fill="#fff" stroke="#000" stroke-width="4"/>
<circle cx="1730.5" cy="460.5" r="6" fill="#fff" stroke="#000" stroke-width="4"/>
<circle cx="1760.0" cy="287.5" r="6" fill="#fff" stroke="#000" stroke-width="4"/>
<circle cx="1756.0" cy="460.5" r="6" fill="#fff" stroke="#000" stroke-width="4"/>
<path d="M1633,282.5 H1649 V296 H1670 L1699,324.4 H1729.6 V420.2 H1700 L1672,451.7 H1651 V466.7 H1633 Z" fill="#fff" stroke="#000" stroke-width="4.2" stroke-linejoin="round"/>
<path d="M1729.6,324.4 L1765.5,326 M1729.6,420.2 L1764,419" stroke="#000" stroke-width="4" fill="none"/>
<path d="M1765.5,326 L1836,350 V355 H1765.5 Z" fill="#fff" stroke="#000" stroke-width="4" stroke-linejoin="round"/>
<path d="M1764,389 H1838 V392 L1764,419 Z" fill="#fff" stroke="#000" stroke-width="4" stroke-linejoin="round"/>
<path d="M1575,323 V270 H1674 L1681,276 H1770 V297 L1804,332 M1575,422 V478 H1675 L1683,468 H1770 V447 L1805,410" stroke-width="4.8"/>
<path d="M1482.0,344.0 C1495.0,343.3 1540.3,344.3 1560.0,340.0 C1579.7,335.7 1592.5,322.7 1600.0,318.0 C1607.5,313.3 1604.4,312.7 1605.2,311.6" fill="none" stroke="#000" stroke-width="5.5" stroke-linecap="round" />
<path d="M1623.0,290.0 L1612.1,319.8 L1607.1,309.3 L1595.8,306.5 Z" fill="#000" stroke="#000" stroke-width="1.5" stroke-linejoin="round"/>
<path d="M1418.0,398.0 C1433.3,397.7 1481.3,393.2 1510.0,396.0 C1538.7,398.8 1573.8,408.4 1590.0,415.0 C1606.2,421.6 1604.2,432.1 1607.1,435.5" fill="none" stroke="#000" stroke-width="5.5" stroke-linecap="round" />
<path d="M1625.0,457.0 L1597.7,440.7 L1609.0,437.8 L1613.9,427.2 Z" fill="#000" stroke="#000" stroke-width="1.5" stroke-linejoin="round"/>
<path d="M1890.0,370.0 C1898.3,369.8 1928.2,369.2 1940.0,369.0 C1951.8,368.8 1957.5,368.6 1961.0,368.6" fill="none" stroke="#000" stroke-width="5.5" stroke-linecap="round" />
<path d="M1989.0,368.0 L1959.2,379.1 L1964.0,368.5 L1958.8,358.1 Z" fill="#000" stroke="#000" stroke-width="1.5" stroke-linejoin="round"/>
<path d="M1782.0,372.0 C1788.3,371.8 1812.0,371.2 1820.0,371.0 C1828.0,370.8 1828.3,370.8 1830.0,370.7" fill="none" stroke="#000" stroke-width="5.5" stroke-linecap="round" />
<path d="M1858.0,370.0 L1828.3,381.3 L1833.0,370.7 L1827.7,360.3 Z" fill="#000" stroke="#000" stroke-width="1.5" stroke-linejoin="round"/>
<path d="M1719.0,314.0 C1722.5,317.5 1736.4,331.3 1740.0,335.0 C1743.6,338.7 1740.6,335.8 1740.7,335.9" fill="none" stroke="#000" stroke-width="5.5" stroke-linecap="round" />
<path d="M1758.0,358.0 L1731.2,340.8 L1742.6,338.3 L1747.8,327.9 Z" fill="#000" stroke="#000" stroke-width="1.5" stroke-linejoin="round"/>
<path d="M1726.0,414.0 C1729.7,410.3 1744.5,395.5 1748.0,392.0 C1751.5,388.5 1747.3,392.6 1747.2,392.7" fill="none" stroke="#000" stroke-width="5.5" stroke-linecap="round" />
<path d="M1768.0,374.0 L1752.7,401.9 L1749.4,390.7 L1738.7,386.3 Z" fill="#000" stroke="#000" stroke-width="1.5" stroke-linejoin="round"/>
</g>
<g transform="translate(20,1829)" stroke="#000" fill="none" stroke-linejoin="round">
<path d="M1366,323 H1575 V422 H1368 Z" fill="url(#st)" stroke="none"/>
<path d="M1575,270 H1674 L1681,276 H1770 V297 L1804,332 H2008 V410 H1805 L1770,447 V468 H1683 L1675,478 H1575 Z" fill="url(#st)" stroke="none"/>
<path d="M1364,296 L1403,282 L1430,282 L1430,295 L1555,294 L1555,241 L1737,241 L1737,215 A13.5,13.5 0 0 1 1764,215 L1764,241 L1792,241 L1792,291 L1818,314 L1942,313 L1942,296 L1964,296 L2007,313 L2010,424 L1964,440 L1941,440 L1941,426 L1819,428 L1795,451 L1795,502 L1765,503 L1765,532 A13,13 0 0 1 1739,532 L1739,503 L1558,503 L1558,451 L1432,451 L1432,464 L1404,464 L1368,450 Z" stroke-width="3.6"/>
<path d="M1366,323 H1575 M1368,422 H1575 M1803,331 H2008 M1805,410 H2009" stroke-width="3.6"/>
<path d="M1621.8,280 L1619.8,303.5" stroke="#000" stroke-width="5.5" fill="none"/>
<path d="M1617.8,466 L1619.8,445.2" stroke="#000" stroke-width="5.5" fill="none"/>
<path d="M1606.0,290 L1637.5,318.7" stroke="#000" stroke-width="4.5" fill="none"/>
<path d="M1602.0,458 L1633.5,432.0" stroke="#000" stroke-width="4.5" fill="none"/>
<path d="M1661.2,280 L1659.2,324.6" stroke="#000" stroke-width="5.5" fill="none"/>
<path d="M1657.2,466 L1659.2,419.7" stroke="#000" stroke-width="5.5" fill="none"/>
<path d="M1645.5,290 L1677.0,325.0" stroke="#000" stroke-width="4.5" fill="none"/>
<path d="M1641.5,458 L1673.0,419.5" stroke="#000" stroke-width="4.5" fill="none"/>
<path d="M1700.8,280 L1698.8,325.8" stroke="#000" stroke-width="5.5" fill="none"/>
<path d="M1696.8,466 L1698.8,419.1" stroke="#000" stroke-width="5.5" fill="none"/>
<path d="M1685.0,290 L1716.5,328.6" stroke="#000" stroke-width="4.5" fill="none"/>
<path d="M1681.0,458 L1712.5,417.3" stroke="#000" stroke-width="4.5" fill="none"/>
<path d="M1740.2,280 L1738.2,336.6" stroke="#000" stroke-width="5.5" fill="none"/>
<path d="M1736.2,466 L1738.2,407.2" stroke="#000" stroke-width="5.5" fill="none"/>
<path d="M1724.5,290 L1756.0,341.9" stroke="#000" stroke-width="4.5" fill="none"/>
<path d="M1720.5,458 L1752.0,402.9" stroke="#000" stroke-width="4.5" fill="none"/>
<path d="M1764.0,290 L1766.0,345.3" stroke="#000" stroke-width="4.5" fill="none"/>
<path d="M1760.0,458 L1762.0,399.3" stroke="#000" stroke-width="4.5" fill="none"/>
<circle cx="1602.0" cy="287.5" r="6" fill="#fff" stroke="#000" stroke-width="4"/>
<circle cx="1598.0" cy="460.5" r="6" fill="#fff" stroke="#000" stroke-width="4"/>
<circle cx="1641.5" cy="287.5" r="6" fill="#fff" stroke="#000" stroke-width="4"/>
<circle cx="1637.5" cy="460.5" r="6" fill="#fff" stroke="#000" stroke-width="4"/>
<circle cx="1681.0" cy="287.5" r="6" fill="#fff" stroke="#000" stroke-width="4"/>
<circle cx="1677.0" cy="460.5" r="6" fill="#fff" stroke="#000" stroke-width="4"/>
<circle cx="1720.5" cy="287.5" r="6" fill="#fff" stroke="#000" stroke-width="4"/>
<circle cx="1716.5" cy="460.5" r="6" fill="#fff" stroke="#000" stroke-width="4"/>
<circle cx="1760.0" cy="287.5" r="6" fill="#fff" stroke="#000" stroke-width="4"/>
<circle cx="1756.0" cy="460.5" r="6" fill="#fff" stroke="#000" stroke-width="4"/>
<path d="M1577,282.5 H1593 V296 H1614 L1643,324.4 H1673.6 V420.2 H1644 L1616,451.7 H1595 V466.7 H1577 Z" fill="#fff" stroke="#000" stroke-width="4.2" stroke-linejoin="round"/>
<path d="M1673.6,324.4 L1709.5,326 M1673.6,420.2 L1708,419" stroke="#000" stroke-width="4" fill="none"/>
<path d="M1709.5,326 L1780,350 V355 H1709.5 Z" fill="#fff" stroke="#000" stroke-width="4" stroke-linejoin="round"/>
<path d="M1708,389 H1782 V392 L1708,419 Z" fill="#fff" stroke="#000" stroke-width="4" stroke-linejoin="round"/>
<path d="M1780,350 V390" stroke="#000" stroke-width="4"/>
<path d="M1575,323 V270 H1674 L1681,276 H1770 V297 L1804,332 M1575,422 V478 H1675 L1683,468 H1770 V447 L1805,410" stroke-width="4.8"/>
<path d="M1942.0,368.0 C1931.7,368.0 1894.2,368.0 1880.0,368.0 C1865.8,368.0 1860.8,368.0 1857.0,368.0" fill="none" stroke="#000" stroke-width="5.5" stroke-linecap="round" />
<path d="M1829.0,368.0 L1859.0,357.5 L1854.0,368.0 L1859.0,378.5 Z" fill="#000" stroke="#000" stroke-width="1.5" stroke-linejoin="round"/>
<path d="M1690.0,283.0 C1685.0,283.2 1665.0,283.8 1660.0,284.0 C1655.0,284.2 1659.9,284.0 1659.9,284.0" fill="none" stroke="#000" stroke-width="5.5" stroke-linecap="round" />
<path d="M1632.0,286.0 L1661.2,273.4 L1656.9,284.2 L1662.7,294.3 Z" fill="#000" stroke="#000" stroke-width="1.5" stroke-linejoin="round"/>
<path d="M1688.0,446.0 C1683.3,446.7 1664.8,449.3 1660.0,450.0 C1655.2,450.7 1659.5,450.1 1659.4,450.1" fill="none" stroke="#000" stroke-width="5.5" stroke-linecap="round" />
<path d="M1632.0,456.0 L1659.1,439.4 L1656.4,450.8 L1663.5,460.0 Z" fill="#000" stroke="#000" stroke-width="1.5" stroke-linejoin="round"/>
</g>
<rect x="1005" y="2283" width="139" height="61" fill="url(#dt)" stroke="#000" stroke-width="3.5"/>
<rect x="1006" y="2421" width="139" height="62" fill="url(#st)" stroke="#000" stroke-width="3.5"/>
<g transform="translate(0,0)" fill="none" stroke="#000" stroke-width="3" stroke-linejoin="round" stroke-linecap="round">
<path d="M437.0,1024.0 L437.0,888.0 L426.0,874.0 L426.0,842.0 L439.0,828.0 L470.0,798.0 L475.0,810.0 L474.0,840.0 L516.0,883.0 L524.0,887.0 L541.0,912.0 L531.0,962.0 L545.0,974.0 L576.0,978.0 L628.0,966.0 L670.0,929.0 L684.0,883.0 L684.0,841.0 L665.0,800.0 L637.0,774.0 L698.0,818.0 L740.0,826.0 L722.0,845.0 L722.0,872.0 L712.0,885.0 L712.0,1024.0 Z" fill="url(#st)" stroke="none"/>
<path d="M212.0,540.0 L178.0,495.0 L178.0,470.0 L188.0,457.0 L248.0,406.0 L265.0,400.0 L278.0,400.0 L290.0,408.0 L326.0,449.0 L490.0,606.0 L635.0,606.0 L793.0,442.0 L840.0,399.0 L860.0,392.0 L873.0,395.0 L940.0,444.0 L947.0,460.0 L944.0,481.0 L911.0,521.0 L906.0,539.0 L821.0,475.0 L734.0,563.0 L607.0,687.0 L601.0,725.0 L622.0,746.0 L590.0,760.0 L555.0,764.0 L517.0,768.0 L504.0,762.0 L531.0,733.0 L538.0,727.0 L532.0,705.0 L528.0,693.0 L400.0,568.0 L309.0,481.0 L222.0,551.0 Z" fill="url(#st)" stroke="none"/>
<path d="M947.0,460.0 L944.0,481.0 L911.0,521.0 L906.0,539.0 L821.0,475.0 L734.0,563.0 L640.0,655.0 L625.0,640.0 L700.0,560.0 L793.0,442.0 L840.0,399.0 L860.0,392.0 L873.0,395.0 L940.0,444.0 Z" fill="#fff" stroke="none"/>
<path d="M947.0,460.0 L944.0,481.0 L911.0,521.0 L906.0,539.0 L821.0,475.0 L734.0,563.0 L640.0,655.0 L625.0,640.0 L700.0,560.0 L793.0,442.0 L840.0,399.0 L860.0,392.0 L873.0,395.0 L940.0,444.0 Z" fill="url(#dt2)" stroke="none"/>
<path d="M433,880 V1085 Q433,1108 458,1108 H694 Q718,1108 718,1085 V879"/>
<path d="M440,888 V1081 Q440,1099 462,1099 H690 Q710,1099 710,1081 V885" stroke-width="2.9"/>
<path d="M440,1024 H711" stroke-width="2.9"/>
<path d="M433,880 L406,877 V846 Q406,832 396,825 L269,700 L252,684 L250,675 L199,611 L235,574 L235,568 L222,551"/>
<path d="M718,879 L740,877 V840 Q742,828 752,818 L867,693 L882,677 L880,665 L930,603 L893,567 L893,561 L907,543 L916,534 L910,522"/>
<path d="M426,875 V842 Q428,834 439,827 L470,797" stroke-width="2.9"/>
<path d="M722,872 V845 Q720,836 710,830 L698,818" stroke-width="2.9"/>
<path d="M222,551 L309,481 L400,568"/>
<path d="M400,568 L495,654 L500,662 L497,668 L508,676 L512,690 L520,697 L522,708 L530,713 L532,722 L538,727"/>
<path d="M504,762 L531,733" stroke-width="2.9"/>
<path d="M400,570 L289,682" stroke-width="2.9"/>
<path d="M280,690 L383,588 M297,688 L390,595 M303,695 L395,602 M310,699 L399,608" stroke-width="2.9"/>
<path d="M310,702 L371,760 M372,762 L439,826" stroke-width="2.9"/>
<path d="M383,589 L531,730" stroke-width="2.9"/>
<circle cx="377.4" cy="675.5" r="15" stroke-width="2.9"/>
<path d="M372,760 L376,754 Q366,740 368,724 Q371,713 387,706 L407,687 Q422,668 439,663 Q450,663 457,670 L463,665" stroke-width="2.9"/>
<path d="M388,707 L470,790 Q477,798 475,812 L474,840 L516,883" stroke-width="2.9"/>
<path d="M407,688 L462,740  C466.7,743.7 481.0,757.0 490.0,762.0 C499.0,767.0 505.5,769.3 516.0,770.0 C526.5,770.7 544.5,765.2 553.0,766.0 C561.5,766.8 560.2,775.0 567.0,775.0 C573.8,775.0 584.8,770.5 594.0,766.0 C603.2,761.5 609.7,754.7 622.0,748.0 C634.3,741.3 660.3,729.7 668.0,726.0" stroke-width="2.9"/>
<path d="M906,539 L821,475 L734,563"/>
<path d="M734,563 L607,687 L612,693 L604,700 L609,712 L601,720 L604,726 L622,746"/>
<path d="M732,562 L867,693" stroke-width="2.9"/>
<path d="M749,582 L843,673" stroke-width="2.9"/>
<path d="M749,583 L626,712" stroke-width="2.9"/>
<path d="M843,673 L698,818" stroke-width="2.9"/>
<path d="M704,629 L800,720 M698,636 L792,724 M691,643 L787,730 M686,651 L780,737" stroke-width="2.9"/>
<circle cx="704" cy="720.6" r="14.5" stroke-width="2.9"/>
<path d="M626,712 L628,716 Q632,718 637,713 Q645,711 650,713 Q660,716 665,723 L709,764 Q719,776 718,785 Q717,794 712,799 L715,802" stroke-width="2.9"/>
<path d="M687,748 L590,801" stroke-width="2.9"/>
<path d="M550,766 L592,803 M556,795 L570,784" stroke-width="2.9"/>
<circle cx="528.6" cy="820.7" r="36.3" stroke-width="2.9"/>
<path d="M578,812 Q580,850 560,863 Q545,872 532,870" stroke-width="2.9"/>
<path d="M524,887 L541,912 L531,962 Q545,976 576,978 Q628,970 670,929 Q686,900 684,860 Q682,820 665,800 L637,774" stroke-width="2.9"/>
<path d="M643,772 L703,822" stroke-width="2.9"/>
<path d="M647,776 Q682,815 686,860 Q688,905 672,934" stroke-width="2.6"/>
<path d="M514,878 L522,870 L533,880 L525,888 Z" stroke-width="2.9" fill="#fff"/>
<path d="M580,813 L590,803 L600,813 L590,823 Z" stroke-width="2.9" fill="#fff"/>
<path d="M290,408 L490,606 H635 L840,399"/>
<path d="M300,403 L499,610 H634 L846,396" stroke-width="2.4"/>
<path d="M337,457 L326,449 L324,444 L331,439 L337,446" stroke-width="2.9"/>
<path d="M794,442 L786,441 L790,435 L798,438" stroke-width="2.9"/>
<path d="M480,538 Q495,538 495,546 V573 Q495,579 502,579 H631 Q638,579 638,572 V541 Q638,535 646,535 H702" stroke-width="2.9"/>
<path d="M491,390 V429 M491,457 V475" stroke-width="2.9"/>
<path d="M533,390 V410 Q533,416 540,416 H636 Q642,416 642,410 V390" stroke-width="2.9"/>
<path d="M455,429 V404 H484 V417 H490" stroke-width="2.9"/>
<path d="M664,388 V418 L660,420 V455 L653,457 V436 H638 V472" stroke-width="2.9"/>
<path d="M494,468 L637,465 M640,472 L692,471 Q718,473 727,479 H747" stroke-width="2.9"/>
<path d="M325,268 L797,261 Q801,262 801,267 V271 Q801,274 797,274 L325,281 Q320,281 320,275 V273 Q320,268 325,268 Z" stroke-width="2.9"/>
<path d="M461,264 L510,246 L615,244 L642,254 L666,262" stroke-width="2.9"/>
<path d="M558,243 V239 Q562,235 567,239 V243" stroke-width="2.4"/>
<path d="M332,281 V380 Q332,392 345,392 H784 Q794,390 794,380 V274" stroke-width="2.9"/>
<rect x="352" y="292.5" width="153" height="83" rx="41.5" stroke-width="2.9"/>
<path d="M375,312 Q385,303 405,303 H470 Q497,303 497,333 Q497,365 470,365 H405 Q385,365 378,355" stroke-width="2.6"/>
<rect x="405" y="302.5" width="92.5" height="63" rx="31.5" stroke-width="2.6"/>
<path d="M497,303 Q533,303 533,333 Q533,362 499,362" stroke-width="2.9"/>
<path d="M627,165 L693,471" stroke-width="2.9"/>
<path d="M212,540 L178,495 Q170,472 188,457 L248,406 Q262,396 278,400 L290,408" stroke-width="3.2"/>
<path d="M219,533 L186,492 Q181,476 195,463 L251,414 Q263,406 276,409 L300,430" stroke-width="2.4"/>
<path d="M910,521 L944,481 Q952,462 940,444 L873,395 Q860,388 840,399" stroke-width="3.2"/>
<path d="M902,516 L936,478 Q942,464 932,451 L870,404 Q858,398 846,404" stroke-width="2.4"/>
<circle cx="272" cy="466.4" r="10.4" stroke-width="2.9" fill="#fff"/>
<path d="M256,455 Q272,446 288,458 Q292,476 275,483 Q258,482 256,470" stroke-width="2.9"/>
<circle cx="854" cy="459.6" r="9" stroke-width="2.9" fill="#fff"/>
<path d="M838,452 Q852,443 868,452 Q872,470 855,478 Q838,476 836,462" stroke-width="2.9"/>
<path d="M226,493 L260,476 L268,500 L240,527 Z" stroke-width="2.9"/>
<path d="M862,481 L890,496 L880,520 L855,505 Z" stroke-width="2.9"/>
<path d="M195.0,367.0 C198.3,364.5 207.0,356.7 215.0,352.0 C223.0,347.3 233.7,341.2 243.0,339.0 C252.3,336.8 261.5,336.3 271.0,339.0 C280.5,341.7 291.5,347.7 300.0,355.0 C308.5,362.3 314.7,374.3 322.0,383.0 C329.3,391.7 334.2,400.0 344.0,407.0 C353.8,414.0 358.3,421.5 381.0,425.0 C403.7,428.5 450.7,428.0 480.0,428.0 C509.3,428.0 544.2,425.5 557.0,425.0" stroke-width="2.9"/>
<path d="M210.0,383.0 C214.5,379.7 228.7,366.8 237.0,363.0 C245.3,359.2 252.8,359.2 260.0,360.0 C267.2,360.8 272.0,361.3 280.0,368.0 C288.0,374.7 300.3,391.0 308.0,400.0 C315.7,409.0 318.3,415.7 326.0,422.0 C333.7,428.3 344.8,433.3 354.0,438.0 C363.2,442.7 357.7,447.5 381.0,450.0 C404.3,452.5 464.7,452.5 494.0,453.0 C523.3,453.5 546.5,453.0 557.0,453.0" stroke-width="2.9"/>
<path d="M557,425 Q578,425 580,440 Q578,455 557,455" stroke-width="2.9"/>
<g transform="translate(202,411) rotate(50)"><rect x="-30" y="-12" width="20" height="24" stroke-width="2.9" fill="#fff"/><rect x="-10" y="-14" width="26" height="28" stroke-width="2.9" fill="#fff"/><rect x="16" y="-22" width="6" height="44" stroke-width="2.9" fill="#fff"/></g>
<path d="M140,253 L177,384" stroke-width="2.9"/>
<path d="M215.0,365.0 C219.2,362.8 232.0,354.5 240.0,352.0 C248.0,349.5 256.7,349.2 263.0,350.0 C269.3,350.8 275.5,355.7 278.0,356.9" fill="none" stroke="#000" stroke-width="5" stroke-linecap="round" />
<path d="M298.0,366.0 L272.4,364.2 L280.7,358.1 L279.9,347.8 Z" fill="#000" stroke="#000" stroke-width="1.5" stroke-linejoin="round"/>
<path d="M335.0,414.0 C339.2,417.2 352.3,429.0 360.0,433.0 C367.7,437.0 375.0,437.0 381.0,438.0 C387.0,439.0 393.6,439.0 396.1,439.2" fill="none" stroke="#000" stroke-width="5" stroke-linecap="round" />
<path d="M420.0,441.0 L393.4,448.0 L399.1,439.4 L394.8,430.0 Z" fill="#000" stroke="#000" stroke-width="1.5" stroke-linejoin="round"/>
<path d="M468.0,443.0 C476.7,443.0 509.5,443.0 520.0,443.0 C530.5,443.0 529.2,443.0 531.0,443.0" fill="none" stroke="#000" stroke-width="5" stroke-linecap="round" />
<path d="M555.0,443.0 L529.0,452.0 L534.0,443.0 L529.0,434.0 Z" fill="#000" stroke="#000" stroke-width="1.5" stroke-linejoin="round"/>
<path d="M889,387 L907,365 Q912,362 918,364 L962,398 Q966,403 964,408 L948,430" stroke-width="2.8" fill="#fff"/>
<path d="M880,388 L947,440 M887,404 L931,438" stroke-width="2.9"/>
<path d="M941,340 L930,370" stroke-width="2.9"/>
<path d="M966,254 L941,340" stroke-width="2.9"/>
<path d="M856.0,290.0 C856.3,296.7 856.2,317.8 858.0,330.0 C859.8,342.2 865.6,357.4 867.1,362.9" fill="none" stroke="#000" stroke-width="4.5" stroke-linecap="round" />
<path d="M874.0,388.0 L857.9,363.4 L867.9,365.8 L875.2,358.6 Z" fill="#000" stroke="#000" stroke-width="1.5" stroke-linejoin="round"/>
<path d="M1046.0,450.0 C1038.3,451.3 1012.1,457.5 1000.0,458.0 C987.9,458.5 977.9,453.8 973.5,452.9" fill="none" stroke="#000" stroke-width="4.5" stroke-linecap="round" />
<path d="M948.0,448.0 L977.2,444.4 L970.6,452.3 L973.8,462.1 Z" fill="#000" stroke="#000" stroke-width="1.5" stroke-linejoin="round"/>
<path d="M533.0,1010.0 C527.5,1008.3 510.5,1005.8 500.0,1000.0 C489.5,994.2 475.6,980.6 470.0,975.0 C464.4,969.4 466.9,968.0 466.3,966.6" fill="none" stroke="#000" stroke-width="5" stroke-linecap="round" />
<path d="M455.0,941.0 L476.3,964.4 L465.1,963.9 L458.0,972.5 Z" fill="#000" stroke="#000" stroke-width="1.5" stroke-linejoin="round"/>
<path d="M657.0,898.0 C660.2,905.8 675.3,928.5 676.0,945.0 C676.7,961.5 665.4,987.4 661.0,997.0 C656.6,1006.6 651.4,1001.4 649.4,1002.3" fill="none" stroke="#000" stroke-width="5" stroke-linecap="round" />
<path d="M624.0,1014.0 L647.1,992.4 L646.7,1003.6 L655.4,1010.6 Z" fill="#000" stroke="#000" stroke-width="1.5" stroke-linejoin="round"/>
<path d="M495.0,929.0 C495.8,920.8 496.7,895.7 500.0,880.0 C503.3,864.3 511.8,843.9 515.0,835.0 C518.2,826.1 518.6,828.1 519.3,826.7" fill="none" stroke="#000" stroke-width="4.5" stroke-linecap="round" />
<path d="M533.0,800.0 L527.3,833.0 L520.7,824.0 L509.5,823.9 Z" fill="#000" stroke="#000" stroke-width="1.5" stroke-linejoin="round"/>
<path d="M558.0,735.0 C557.2,729.2 556.8,712.5 553.0,700.0 C549.2,687.5 540.1,669.1 535.0,660.0 C529.9,650.9 524.4,647.7 522.3,645.2" fill="none" stroke="#000" stroke-width="5" stroke-linecap="round" />
<path d="M504.0,624.0 L531.2,640.2 L520.3,642.9 L516.0,653.3 Z" fill="#000" stroke="#000" stroke-width="1.5" stroke-linejoin="round"/>
<path d="M620.0,654.0 C616.7,660.0 605.0,679.0 600.0,690.0 C595.0,701.0 591.9,713.6 590.0,720.0 C588.1,726.4 588.6,727.1 588.3,728.5" fill="none" stroke="#000" stroke-width="5" stroke-linecap="round" />
<path d="M583.0,756.0 L578.9,724.6 L587.8,731.5 L598.5,728.5 Z" fill="#000" stroke="#000" stroke-width="1.5" stroke-linejoin="round"/>
<path d="M473.0,601.0 C467.5,596.7 450.5,583.0 440.0,575.0 C429.5,567.0 415.9,557.4 410.0,553.0 C404.1,548.6 405.6,549.4 404.7,548.7" fill="none" stroke="#000" stroke-width="5" stroke-linecap="round" />
<path d="M383.0,531.0 L412.6,542.2 L402.4,546.8 L399.9,557.7 Z" fill="#000" stroke="#000" stroke-width="1.5" stroke-linejoin="round"/>
<path d="M742.0,526.0 C737.0,531.7 719.5,551.4 712.0,560.0 C704.5,568.6 699.6,574.7 697.1,577.6" fill="none" stroke="#000" stroke-width="5" stroke-linecap="round" />
<path d="M679.0,599.0 L690.7,569.6 L695.1,579.9 L706.0,582.6 Z" fill="#000" stroke="#000" stroke-width="1.5" stroke-linejoin="round"/>
<path d="M292.0,450.0 C286.7,448.3 265.9,441.9 260.0,440.0 C254.1,438.1 257.0,438.6 256.3,438.3" fill="none" stroke="#000" stroke-width="6" stroke-linecap="round" />
<path d="M229.0,426.0 L263.5,427.3 L253.6,437.1 L252.8,451.0 Z" fill="#000" stroke="#000" stroke-width="1.5" stroke-linejoin="round"/>
<path d="M262.0,478.0 C258.0,475.8 242.3,467.3 238.0,465.0 C233.7,462.7 236.7,464.2 236.4,464.0" fill="none" stroke="#000" stroke-width="6" stroke-linecap="round" />
<path d="M211.0,448.0 L245.0,454.0 L233.8,462.4 L231.2,476.1 Z" fill="#000" stroke="#000" stroke-width="1.5" stroke-linejoin="round"/>
<path d="M290.0,452.0 C293.7,454.2 308.4,462.9 312.0,465.0 C315.6,467.1 311.5,464.8 311.4,464.8" fill="none" stroke="#000" stroke-width="5" stroke-linecap="round" />
<path d="M330.0,472.0 L306.2,472.4 L314.2,465.8 L312.8,455.6 Z" fill="#000" stroke="#000" stroke-width="1.5" stroke-linejoin="round"/>
<path d="M232,432 L268,433 L259,441 L288,448 L262,452 L248,455 Z" fill="#000" stroke="none"/>
<path d="M214,449 L246,460 L240,466 L256,475 L236,476 Z" fill="#000" stroke="none"/>
<path d="M890.0,452.0 C883.7,455.0 860.0,466.0 852.0,470.0 C844.0,474.0 843.8,474.8 842.1,475.8" fill="none" stroke="#000" stroke-width="6" stroke-linecap="round" />
<path d="M818.0,490.0 L837.8,464.4 L839.5,477.3 L849.9,485.1 Z" fill="#000" stroke="#000" stroke-width="1.5" stroke-linejoin="round"/>
<path d="M910.0,468.0 C905.7,470.7 888.8,481.0 884.0,484.0 C879.2,487.0 881.8,485.6 881.4,485.9" fill="none" stroke="#000" stroke-width="5" stroke-linecap="round" />
<path d="M862.0,500.0 L876.6,475.8 L879.0,487.6 L889.5,493.6 Z" fill="#000" stroke="#000" stroke-width="1.5" stroke-linejoin="round"/>
<path d="M824.0,446.0 C820.7,449.3 808.3,461.6 804.0,466.0 C799.7,470.4 799.2,471.3 798.2,472.3" fill="none" stroke="#000" stroke-width="5" stroke-linecap="round" />
<path d="M782.0,490.0 L792.2,464.1 L796.2,474.5 L806.9,477.6 Z" fill="#000" stroke="#000" stroke-width="1.5" stroke-linejoin="round"/>
</g>
<g transform="translate(12,1244)" fill="none" stroke="#000" stroke-width="3" stroke-linejoin="round" stroke-linecap="round">
<path d="M437.0,1024.0 L437.0,888.0 L426.0,874.0 L426.0,842.0 L439.0,828.0 L470.0,798.0 L475.0,810.0 L474.0,840.0 L516.0,883.0 L524.0,887.0 L541.0,912.0 L531.0,962.0 L545.0,974.0 L576.0,978.0 L628.0,966.0 L670.0,929.0 L684.0,883.0 L684.0,841.0 L665.0,800.0 L637.0,774.0 L698.0,818.0 L740.0,826.0 L722.0,845.0 L722.0,872.0 L712.0,885.0 L712.0,1024.0 Z" fill="url(#st)" stroke="none"/>
<path d="M212.0,540.0 L178.0,495.0 L178.0,470.0 L188.0,457.0 L248.0,406.0 L265.0,400.0 L278.0,400.0 L290.0,408.0 L326.0,449.0 L490.0,606.0 L635.0,606.0 L793.0,442.0 L840.0,399.0 L860.0,392.0 L873.0,395.0 L940.0,444.0 L947.0,460.0 L944.0,481.0 L911.0,521.0 L906.0,539.0 L821.0,475.0 L734.0,563.0 L607.0,687.0 L601.0,725.0 L622.0,746.0 L590.0,760.0 L555.0,764.0 L517.0,768.0 L504.0,762.0 L531.0,733.0 L538.0,727.0 L532.0,705.0 L528.0,693.0 L400.0,568.0 L309.0,481.0 L222.0,551.0 Z" fill="url(#st)" stroke="none"/>
<path d="M947.0,460.0 L944.0,481.0 L911.0,521.0 L906.0,539.0 L821.0,475.0 L734.0,563.0 L640.0,655.0 L625.0,640.0 L700.0,560.0 L793.0,442.0 L840.0,399.0 L860.0,392.0 L873.0,395.0 L940.0,444.0 Z" fill="#fff" stroke="none"/>
<path d="M947.0,460.0 L944.0,481.0 L911.0,521.0 L906.0,539.0 L821.0,475.0 L734.0,563.0 L640.0,655.0 L625.0,640.0 L700.0,560.0 L793.0,442.0 L840.0,399.0 L860.0,392.0 L873.0,395.0 L940.0,444.0 Z" fill="url(#dt2)" stroke="none"/>
<path d="M433,880 V1085 Q433,1108 458,1108 H694 Q718,1108 718,1085 V879"/>
<path d="M440,888 V1081 Q440,1099 462,1099 H690 Q710,1099 710,1081 V885" stroke-width="2.9"/>
<path d="M440,1024 H711" stroke-width="2.9"/>
<path d="M433,880 L406,877 V846 Q406,832 396,825 L269,700 L252,684 L250,675 L199,611 L235,574 L235,568 L222,551"/>
<path d="M718,879 L740,877 V840 Q742,828 752,818 L867,693 L882,677 L880,665 L930,603 L893,567 L893,561 L907,543 L916,534 L910,522"/>
<path d="M426,875 V842 Q428,834 439,827 L470,797" stroke-width="2.9"/>
<path d="M722,872 V845 Q720,836 710,830 L698,818" stroke-width="2.9"/>
<path d="M222,551 L309,481 L400,568"/>
<path d="M400,568 L495,654 L500,662 L497,668 L508,676 L512,690 L520,697 L522,708 L530,713 L532,722 L538,727"/>
<path d="M504,762 L531,733" stroke-width="2.9"/>
<path d="M400,570 L289,682" stroke-width="2.9"/>
<path d="M280,690 L383,588 M297,688 L390,595 M303,695 L395,602 M310,699 L399,608" stroke-width="2.9"/>
<path d="M310,702 L371,760 M372,762 L439,826" stroke-width="2.9"/>
<path d="M383,589 L531,730" stroke-width="2.9"/>
<circle cx="377.4" cy="675.5" r="15" stroke-width="2.9"/>
<path d="M372,760 L376,754 Q366,740 368,724 Q371,713 387,706 L407,687 Q422,668 439,663 Q450,663 457,670 L463,665" stroke-width="2.9"/>
<path d="M388,707 L470,790 Q477,798 475,812 L474,840 L516,883" stroke-width="2.9"/>
<path d="M407,688 L462,740  C466.7,743.7 481.0,757.0 490.0,762.0 C499.0,767.0 505.5,769.3 516.0,770.0 C526.5,770.7 544.5,765.2 553.0,766.0 C561.5,766.8 560.2,775.0 567.0,775.0 C573.8,775.0 584.8,770.5 594.0,766.0 C603.2,761.5 609.7,754.7 622.0,748.0 C634.3,741.3 660.3,729.7 668.0,726.0" stroke-width="2.9"/>
<path d="M906,539 L821,475 L734,563"/>
<path d="M734,563 L607,687 L612,693 L604,700 L609,712 L601,720 L604,726 L622,746"/>
<path d="M732,562 L867,693" stroke-width="2.9"/>
<path d="M749,582 L843,673" stroke-width="2.9"/>
<path d="M749,583 L626,712" stroke-width="2.9"/>
<path d="M843,673 L698,818" stroke-width="2.9"/>
<path d="M704,629 L800,720 M698,636 L792,724 M691,643 L787,730 M686,651 L780,737" stroke-width="2.9"/>
<circle cx="704" cy="720.6" r="14.5" stroke-width="2.9"/>
<path d="M626,712 L628,716 Q632,718 637,713 Q645,711 650,713 Q660,716 665,723 L709,764 Q719,776 718,785 Q717,794 712,799 L715,802" stroke-width="2.9"/>
<path d="M687,748 L590,801" stroke-width="2.9"/>
<path d="M550,766 L592,803 M556,795 L570,784" stroke-width="2.9"/>
<circle cx="528.6" cy="820.7" r="36.3" stroke-width="2.9"/>
<path d="M578,812 Q580,850 560,863 Q545,872 532,870" stroke-width="2.9"/>
<path d="M524,887 L541,912 L531,962 Q545,976 576,978 Q628,970 670,929 Q686,900 684,860 Q682,820 665,800 L637,774" stroke-width="2.9"/>
<path d="M643,772 L703,822" stroke-width="2.9"/>
<path d="M647,776 Q682,815 686,860 Q688,905 672,934" stroke-width="2.6"/>
<path d="M514,878 L522,870 L533,880 L525,888 Z" stroke-width="2.9" fill="#fff"/>
<path d="M580,813 L590,803 L600,813 L590,823 Z" stroke-width="2.9" fill="#fff"/>
<path d="M290,408 L490,606 H635 L840,399"/>
<path d="M300,403 L499,610 H634 L846,396" stroke-width="2.4"/>
<path d="M337,457 L326,449 L324,444 L331,439 L337,446" stroke-width="2.9"/>
<path d="M794,442 L786,441 L790,435 L798,438" stroke-width="2.9"/>
<path d="M480,538 Q495,538 495,546 V573 Q495,579 502,579 H631 Q638,579 638,572 V541 Q638,535 646,535 H702" stroke-width="2.9"/>
<path d="M491,390 V429 M491,457 V475" stroke-width="2.9"/>
<path d="M533,390 V410 Q533,416 540,416 H636 Q642,416 642,410 V390" stroke-width="2.9"/>
<path d="M455,429 V404 H484 V417 H490" stroke-width="2.9"/>
<path d="M664,388 V418 L660,420 V455 L653,457 V436 H638 V472" stroke-width="2.9"/>
<path d="M494,468 L637,465 M640,472 L692,471 Q718,473 727,479 H747" stroke-width="2.9"/>
<path d="M325,268 L797,261 Q801,262 801,267 V271 Q801,274 797,274 L325,281 Q320,281 320,275 V273 Q320,268 325,268 Z" stroke-width="2.9"/>
<path d="M461,264 L510,246 L615,244 L642,254 L666,262" stroke-width="2.9"/>
<path d="M558,243 V239 Q562,235 567,239 V243" stroke-width="2.4"/>
<path d="M332,281 V380 Q332,392 345,392 H784 Q794,390 794,380 V274" stroke-width="2.9"/>
<rect x="352" y="292.5" width="153" height="83" rx="41.5" stroke-width="2.9"/>
<path d="M375,312 Q385,303 405,303 H470 Q497,303 497,333 Q497,365 470,365 H405 Q385,365 378,355" stroke-width="2.6"/>
<rect x="405" y="302.5" width="92.5" height="63" rx="31.5" stroke-width="2.6"/>
<path d="M497,303 Q533,303 533,333 Q533,362 499,362" stroke-width="2.9"/>
<path d="M212,540 L178,495 Q170,472 188,457 L248,406 Q262,396 278,400 L290,408" stroke-width="3.2"/>
<path d="M219,533 L186,492 Q181,476 195,463 L251,414 Q263,406 276,409 L300,430" stroke-width="2.4"/>
<path d="M910,521 L944,481 Q952,462 940,444 L873,395 Q860,388 840,399" stroke-width="3.2"/>
<path d="M902,516 L936,478 Q942,464 932,451 L870,404 Q858,398 846,404" stroke-width="2.4"/>
<circle cx="272" cy="466.4" r="10.4" stroke-width="2.9" fill="#fff"/>
<path d="M256,455 Q272,446 288,458 Q292,476 275,483 Q258,482 256,470" stroke-width="2.9"/>
<circle cx="854" cy="459.6" r="9" stroke-width="2.9" fill="#fff"/>
<path d="M838,452 Q852,443 868,452 Q872,470 855,478 Q838,476 836,462" stroke-width="2.9"/>
<path d="M226,493 L260,476 L268,500 L240,527 Z" stroke-width="2.9"/>
<path d="M862,481 L890,496 L880,520 L855,505 Z" stroke-width="2.9"/>
<path d="M533.0,1010.0 C527.5,1008.3 510.5,1005.8 500.0,1000.0 C489.5,994.2 475.6,980.6 470.0,975.0 C464.4,969.4 466.9,968.0 466.3,966.6" fill="none" stroke="#000" stroke-width="5" stroke-linecap="round" />
<path d="M455.0,941.0 L476.3,964.4 L465.1,963.9 L458.0,972.5 Z" fill="#000" stroke="#000" stroke-width="1.5" stroke-linejoin="round"/>
<path d="M657.0,898.0 C660.2,905.8 675.3,928.5 676.0,945.0 C676.7,961.5 665.4,987.4 661.0,997.0 C656.6,1006.6 651.4,1001.4 649.4,1002.3" fill="none" stroke="#000" stroke-width="5" stroke-linecap="round" />
<path d="M624.0,1014.0 L647.1,992.4 L646.7,1003.6 L655.4,1010.6 Z" fill="#000" stroke="#000" stroke-width="1.5" stroke-linejoin="round"/>
<path d="M495.0,929.0 C495.8,920.8 496.7,895.7 500.0,880.0 C503.3,864.3 511.8,843.9 515.0,835.0 C518.2,826.1 518.6,828.1 519.3,826.7" fill="none" stroke="#000" stroke-width="4.5" stroke-linecap="round" />
<path d="M533.0,800.0 L527.3,833.0 L520.7,824.0 L509.5,823.9 Z" fill="#000" stroke="#000" stroke-width="1.5" stroke-linejoin="round"/>
<path d="M558.0,735.0 C557.2,729.2 556.8,712.5 553.0,700.0 C549.2,687.5 540.1,669.1 535.0,660.0 C529.9,650.9 524.4,647.7 522.3,645.2" fill="none" stroke="#000" stroke-width="5" stroke-linecap="round" />
<path d="M504.0,624.0 L531.2,640.2 L520.3,642.9 L516.0,653.3 Z" fill="#000" stroke="#000" stroke-width="1.5" stroke-linejoin="round"/>
<path d="M620.0,654.0 C616.7,660.0 605.0,679.0 600.0,690.0 C595.0,701.0 591.9,713.6 590.0,720.0 C588.1,726.4 588.6,727.1 588.3,728.5" fill="none" stroke="#000" stroke-width="5" stroke-linecap="round" />
<path d="M583.0,756.0 L578.9,724.6 L587.8,731.5 L598.5,728.5 Z" fill="#000" stroke="#000" stroke-width="1.5" stroke-linejoin="round"/>
<path d="M473.0,601.0 C467.5,596.7 450.5,583.0 440.0,575.0 C429.5,567.0 415.9,557.4 410.0,553.0 C404.1,548.6 405.6,549.4 404.7,548.7" fill="none" stroke="#000" stroke-width="5" stroke-linecap="round" />
<path d="M383.0,531.0 L412.6,542.2 L402.4,546.8 L399.9,557.7 Z" fill="#000" stroke="#000" stroke-width="1.5" stroke-linejoin="round"/>
<path d="M742.0,526.0 C737.0,531.7 719.5,551.4 712.0,560.0 C704.5,568.6 699.6,574.7 697.1,577.6" fill="none" stroke="#000" stroke-width="5" stroke-linecap="round" />
<path d="M679.0,599.0 L690.7,569.6 L695.1,579.9 L706.0,582.6 Z" fill="#000" stroke="#000" stroke-width="1.5" stroke-linejoin="round"/>
<path d="M292.0,450.0 C286.7,448.3 265.9,441.9 260.0,440.0 C254.1,438.1 257.0,438.6 256.3,438.3" fill="none" stroke="#000" stroke-width="6" stroke-linecap="round" />
<path d="M229.0,426.0 L263.5,427.3 L253.6,437.1 L252.8,451.0 Z" fill="#000" stroke="#000" stroke-width="1.5" stroke-linejoin="round"/>
<path d="M262.0,478.0 C258.0,475.8 242.3,467.3 238.0,465.0 C233.7,462.7 236.7,464.2 236.4,464.0" fill="none" stroke="#000" stroke-width="6" stroke-linecap="round" />
<path d="M211.0,448.0 L245.0,454.0 L233.8,462.4 L231.2,476.1 Z" fill="#000" stroke="#000" stroke-width="1.5" stroke-linejoin="round"/>
<path d="M290.0,452.0 C293.7,454.2 308.4,462.9 312.0,465.0 C315.6,467.1 311.5,464.8 311.4,464.8" fill="none" stroke="#000" stroke-width="5" stroke-linecap="round" />
<path d="M330.0,472.0 L306.2,472.4 L314.2,465.8 L312.8,455.6 Z" fill="#000" stroke="#000" stroke-width="1.5" stroke-linejoin="round"/>
<path d="M232,432 L268,433 L259,441 L288,448 L262,452 L248,455 Z" fill="#000" stroke="none"/>
<path d="M214,449 L246,460 L240,466 L256,475 L236,476 Z" fill="#000" stroke="none"/>
<path d="M890.0,452.0 C883.7,455.0 860.0,466.0 852.0,470.0 C844.0,474.0 843.8,474.8 842.1,475.8" fill="none" stroke="#000" stroke-width="6" stroke-linecap="round" />
<path d="M818.0,490.0 L837.8,464.4 L839.5,477.3 L849.9,485.1 Z" fill="#000" stroke="#000" stroke-width="1.5" stroke-linejoin="round"/>
<path d="M910.0,468.0 C905.7,470.7 888.8,481.0 884.0,484.0 C879.2,487.0 881.8,485.6 881.4,485.9" fill="none" stroke="#000" stroke-width="5" stroke-linecap="round" />
<path d="M862.0,500.0 L876.6,475.8 L879.0,487.6 L889.5,493.6 Z" fill="#000" stroke="#000" stroke-width="1.5" stroke-linejoin="round"/>
<path d="M824.0,446.0 C820.7,449.3 808.3,461.6 804.0,466.0 C799.7,470.4 799.2,471.3 798.2,472.3" fill="none" stroke="#000" stroke-width="5" stroke-linecap="round" />
<path d="M782.0,490.0 L792.2,464.1 L796.2,474.5 L806.9,477.6 Z" fill="#000" stroke="#000" stroke-width="1.5" stroke-linejoin="round"/>
<path d="M197.0,367.0 C201.3,363.8 215.0,352.5 223.0,348.0 C231.0,343.5 236.8,341.8 245.0,340.0 C253.2,338.2 263.3,335.8 272.0,337.0 C280.7,338.2 289.2,340.7 297.0,347.0 C304.8,353.3 311.2,365.5 319.0,375.0 C326.8,384.5 333.7,395.8 344.0,404.0 C354.3,412.2 370.7,419.8 381.0,424.0 C391.3,428.2 377.2,428.5 406.0,429.0 C434.8,429.5 529.3,427.3 554.0,427.0 L554,454 L554.0,454.0 C543.7,454.0 516.7,454.5 492.0,454.0 C467.3,453.5 426.5,452.7 406.0,451.0 C385.5,449.3 381.5,448.5 369.0,444.0 C356.5,439.5 343.0,435.2 331.0,424.0 C319.0,412.8 306.0,387.0 297.0,377.0 C288.0,367.0 285.7,366.0 277.0,364.0 C268.3,362.0 253.2,363.8 245.0,365.0 C236.8,366.2 233.3,367.7 228.0,371.0 C222.7,374.3 215.5,382.7 213.0,385.0 Z" fill="url(#st)" stroke="none"/>
<path d="M197.0,367.0 C201.3,363.8 215.0,352.5 223.0,348.0 C231.0,343.5 236.8,341.8 245.0,340.0 C253.2,338.2 263.3,335.8 272.0,337.0 C280.7,338.2 289.2,340.7 297.0,347.0 C304.8,353.3 311.2,365.5 319.0,375.0 C326.8,384.5 333.7,395.8 344.0,404.0 C354.3,412.2 370.7,419.8 381.0,424.0 C391.3,428.2 377.2,428.5 406.0,429.0 C434.8,429.5 529.3,427.3 554.0,427.0" stroke-width="3"/>
<path d="M213.0,385.0 C215.5,382.7 222.7,374.3 228.0,371.0 C233.3,367.7 236.8,366.2 245.0,365.0 C253.2,363.8 268.3,362.0 277.0,364.0 C285.7,366.0 288.0,367.0 297.0,377.0 C306.0,387.0 319.0,412.8 331.0,424.0 C343.0,435.2 356.5,439.5 369.0,444.0 C381.5,448.5 385.5,449.3 406.0,451.0 C426.5,452.7 467.3,453.5 492.0,454.0 C516.7,454.5 543.7,454.0 554.0,454.0" stroke-width="3"/>
<path d="M554,427 Q576,427 578,440 Q576,455 554,455" stroke-width="3"/>
<g transform="translate(202,405) rotate(50)"><rect x="-30" y="-12" width="20" height="24" stroke-width="2.9" fill="#fff"/><rect x="-10" y="-14" width="26" height="28" stroke-width="2.9" fill="#fff"/><rect x="16" y="-22" width="6" height="44" stroke-width="2.9" fill="#fff"/></g>
<path d="M220.0,361.0 C224.7,359.3 238.3,352.7 248.0,351.0 C257.7,349.3 271.8,350.6 278.0,351.0 C284.2,351.4 284.1,353.2 285.3,353.6" fill="none" stroke="#000" stroke-width="5" stroke-linecap="round" />
<path d="M306.0,361.0 L280.4,361.4 L288.1,354.6 L286.4,344.5 Z" fill="#000" stroke="#000" stroke-width="1.5" stroke-linejoin="round"/>
<path d="M338.0,416.0 C343.0,418.7 356.3,428.0 368.0,432.0 C379.7,436.0 399.5,438.6 408.0,440.0 C416.5,441.4 417.2,440.5 419.0,440.6" fill="none" stroke="#000" stroke-width="5" stroke-linecap="round" />
<path d="M443.0,442.0 L416.5,449.5 L422.0,440.8 L417.6,431.5 Z" fill="#000" stroke="#000" stroke-width="1.5" stroke-linejoin="round"/>
<path d="M478.0,442.0 C484.7,441.8 509.3,441.2 518.0,441.0 C526.7,440.8 528.0,440.7 530.0,440.7" fill="none" stroke="#000" stroke-width="5" stroke-linecap="round" />
<path d="M554.0,440.0 L528.3,449.7 L533.0,440.6 L527.8,431.7 Z" fill="#000" stroke="#000" stroke-width="1.5" stroke-linejoin="round"/>
<path d="M773.0,309.0 C781.7,309.3 810.0,308.2 825.0,311.0 C840.0,313.8 849.2,317.8 863.0,326.0 C876.8,334.2 900.5,354.3 908.0,360.0 L908,383 L908.0,383.0 C905.5,382.2 900.5,382.0 893.0,378.0 C885.5,374.0 875.5,365.5 863.0,359.0 C850.5,352.5 833.0,342.8 818.0,339.0 C803.0,335.2 780.5,336.5 773.0,336.0 Z" fill="url(#dt)" stroke="none"/>
<path d="M773.0,309.0 C781.7,309.3 810.0,308.2 825.0,311.0 C840.0,313.8 849.2,317.8 863.0,326.0 C876.8,334.2 900.5,354.3 908.0,360.0" stroke-width="3"/>
<path d="M773.0,336.0 C780.5,336.5 803.0,335.2 818.0,339.0 C833.0,342.8 850.5,352.5 863.0,359.0 C875.5,365.5 885.5,374.0 893.0,378.0 C900.5,382.0 905.5,382.2 908.0,383.0" stroke-width="3"/>
<path d="M773,309 Q763,311 764,323 Q765,336 773,336" stroke-width="3"/>
<path d="M803.0,324.0 C810.5,326.3 835.5,332.7 848.0,338.0 C860.5,343.3 872.1,352.4 878.0,356.0 C883.9,359.6 882.3,358.9 883.2,359.5" fill="none" stroke="#000" stroke-width="5" stroke-linecap="round" />
<path d="M903.0,373.0 L876.4,365.8 L885.6,361.2 L886.6,350.9 Z" fill="#000" stroke="#000" stroke-width="1.5" stroke-linejoin="round"/>
<path d="M884.0,384.0 L909.0,362.0 L917.0,362.0 L936.0,378.0 L962.0,395.0 Q966,408 958,416 L945,431 L947,437 Z" stroke-width="3" fill="#fff"/>
<path d="M879.0,387.0 L947.0,438.0 M885.0,381.0 L951.0,432.0" stroke-width="2.9"/>
<path d="M960.0,242.0 L936.0,377.0" stroke-width="2.9"/>
<path d="M651.0,119.0 L683.0,259.0" stroke-width="2.9"/>
<path d="M146.0,253.0 L182.0,380.0" stroke-width="2.9"/>
</g>
</svg></body></html>
